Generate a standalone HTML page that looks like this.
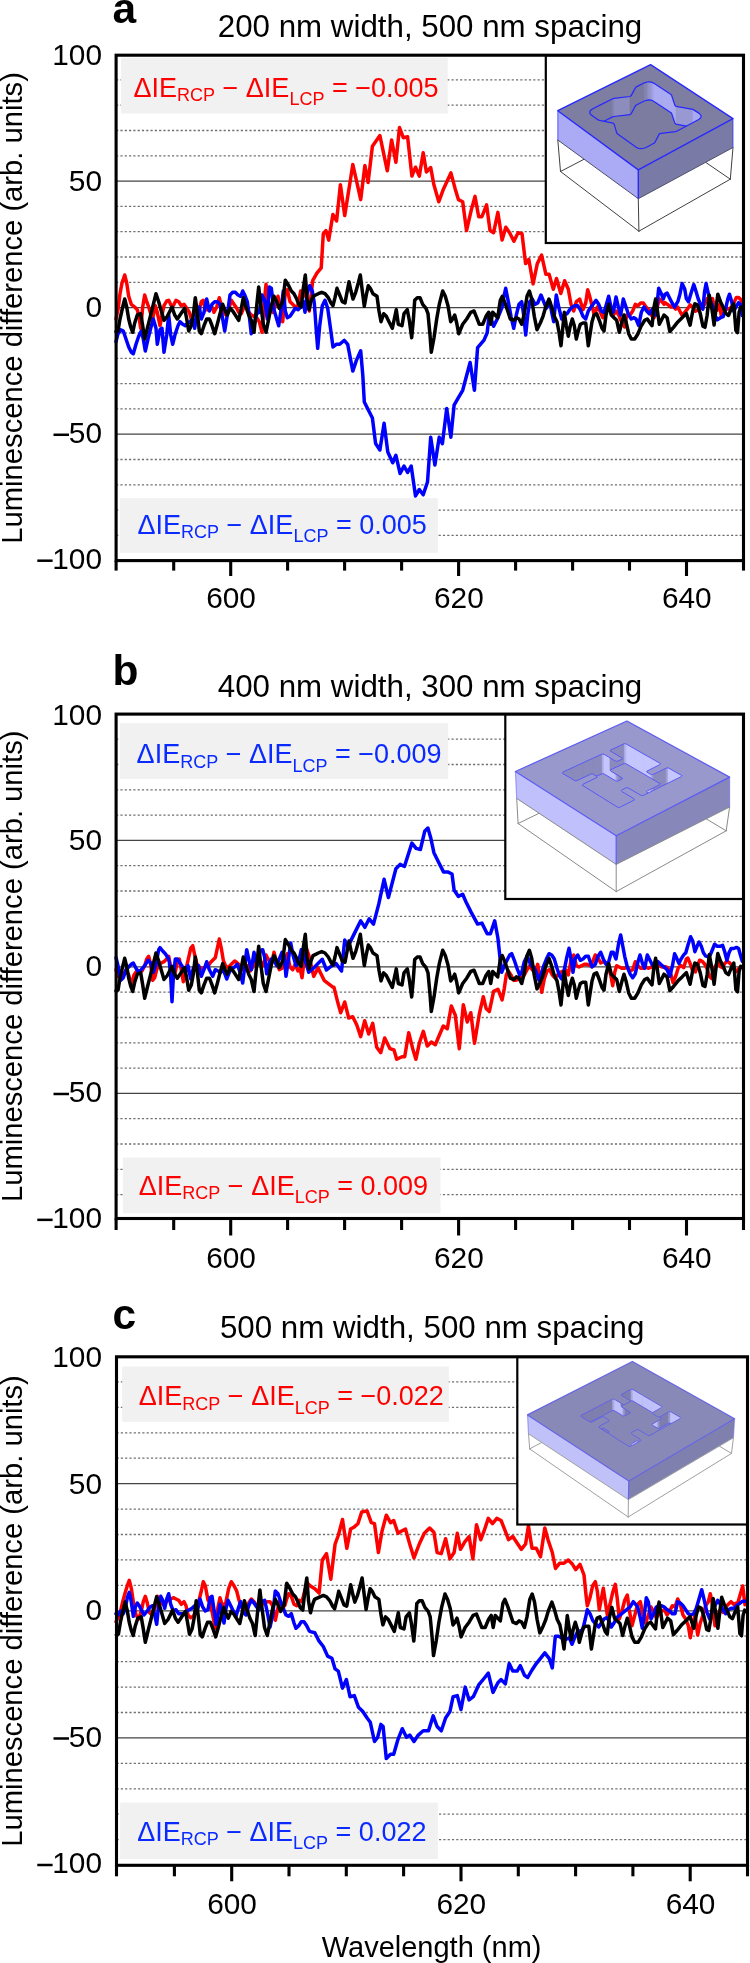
<!DOCTYPE html>
<html><head><meta charset="utf-8"><style>
html,body{margin:0;padding:0;background:#fff;width:750px;height:1963px;overflow:hidden}
text{font-family:"Liberation Sans",sans-serif}
</style></head><body>
<svg width="750" height="1963" viewBox="0 0 750 1963" style="display:block;font-family:'Liberation Sans',sans-serif;will-change:transform">
<rect x="0" y="0" width="750" height="1963" fill="#fff"/>
<line x1="116.1" y1="535.4" x2="743.5" y2="535.4" stroke="#707070" stroke-width="1.3" stroke-dasharray="2.2 2.1"/>
<line x1="116.1" y1="510.1" x2="743.5" y2="510.1" stroke="#707070" stroke-width="1.3" stroke-dasharray="2.2 2.1"/>
<line x1="116.1" y1="484.8" x2="743.5" y2="484.8" stroke="#707070" stroke-width="1.3" stroke-dasharray="2.2 2.1"/>
<line x1="116.1" y1="459.5" x2="743.5" y2="459.5" stroke="#707070" stroke-width="1.3" stroke-dasharray="2.2 2.1"/>
<line x1="116.1" y1="408.9" x2="743.5" y2="408.9" stroke="#707070" stroke-width="1.3" stroke-dasharray="2.2 2.1"/>
<line x1="116.1" y1="383.6" x2="743.5" y2="383.6" stroke="#707070" stroke-width="1.3" stroke-dasharray="2.2 2.1"/>
<line x1="116.1" y1="358.3" x2="743.5" y2="358.3" stroke="#707070" stroke-width="1.3" stroke-dasharray="2.2 2.1"/>
<line x1="116.1" y1="333.0" x2="743.5" y2="333.0" stroke="#707070" stroke-width="1.3" stroke-dasharray="2.2 2.1"/>
<line x1="116.1" y1="282.3" x2="743.5" y2="282.3" stroke="#707070" stroke-width="1.3" stroke-dasharray="2.2 2.1"/>
<line x1="116.1" y1="257.0" x2="743.5" y2="257.0" stroke="#707070" stroke-width="1.3" stroke-dasharray="2.2 2.1"/>
<line x1="116.1" y1="231.7" x2="743.5" y2="231.7" stroke="#707070" stroke-width="1.3" stroke-dasharray="2.2 2.1"/>
<line x1="116.1" y1="206.4" x2="743.5" y2="206.4" stroke="#707070" stroke-width="1.3" stroke-dasharray="2.2 2.1"/>
<line x1="116.1" y1="155.8" x2="743.5" y2="155.8" stroke="#707070" stroke-width="1.3" stroke-dasharray="2.2 2.1"/>
<line x1="116.1" y1="130.5" x2="743.5" y2="130.5" stroke="#707070" stroke-width="1.3" stroke-dasharray="2.2 2.1"/>
<line x1="116.1" y1="105.2" x2="743.5" y2="105.2" stroke="#707070" stroke-width="1.3" stroke-dasharray="2.2 2.1"/>
<line x1="116.1" y1="79.9" x2="743.5" y2="79.9" stroke="#707070" stroke-width="1.3" stroke-dasharray="2.2 2.1"/>
<line x1="116.1" y1="434.2" x2="743.5" y2="434.2" stroke="#444" stroke-width="1.3"/>
<line x1="116.1" y1="307.6" x2="743.5" y2="307.6" stroke="#444" stroke-width="1.3"/>
<line x1="116.1" y1="181.1" x2="743.5" y2="181.1" stroke="#444" stroke-width="1.3"/>
<rect x="121" y="57.8" width="326.7" height="55.7" fill="#f1f1f1"/>
<text x="133.5" y="96.6" font-size="27" fill="#ff0000">ΔIE<tspan font-size="18" dy="4.6">RCP</tspan><tspan dy="-4.6"> − ΔIE</tspan><tspan font-size="18" dy="8.4">LCP</tspan><tspan dy="-8.4"> = −0.005</tspan></text>
<rect x="120" y="498.2" width="317.8" height="54.6" fill="#f1f1f1"/>
<text x="137.5" y="533.5" font-size="27" fill="#0a2aff">ΔIE<tspan font-size="18" dy="4.6">RCP</tspan><tspan dy="-4.6"> − ΔIE</tspan><tspan font-size="18" dy="8.4">LCP</tspan><tspan dy="-8.4"> = 0.005</tspan></text>
<path d="M116.0,319.0 L118.0,309.7 L120.0,293.7 L122.0,283.0 L124.7,275.0 L126.7,283.0 L128.7,296.3 L131.3,304.3 L134.7,307.0 L137.3,309.7 L139.3,319.0 L140.7,328.3 L142.7,307.0 L144.7,295.0 L146.7,301.7 L148.7,307.0 L150.7,313.7 L152.7,319.0 L155.3,305.7 L157.3,312.3 L160.0,325.7 L162.0,315.0 L164.0,305.7 L166.7,301.0 L168.7,300.3 L171.3,305.7 L173.3,305.7 L176.0,300.3 L178.7,301.7 L181.3,305.7 L184.0,304.3 L186.7,308.3 L189.3,312.3 L191.3,319.0 L193.3,315.0 L196.0,308.3 L198.7,312.3 L201.3,301.7 L203.3,300.3 L205.3,309.7 L208.0,309.7 L212.0,307.0 L214.0,312.3 L216.7,307.0 L219.3,297.7 L221.3,305.7 L223.3,312.3 L226.0,315.0 L228.7,309.7 L231.3,300.3 L234.0,304.3 L236.7,308.3 L238.7,312.3 L241.3,313.7 L244.0,307.0 L246.0,301.7 L248.7,312.3 L251.3,315.0 L254.0,316.3 L256.7,317.7 L259.3,321.7 L262.0,332.3 L264.7,297.7 L266.0,284.3 L268.0,301.7 L270.0,308.3 L272.7,312.3 L275.3,305.7 L278.0,296.3 L280.7,308.3 L282.7,321.7 L285.3,292.3 L287.3,289.7 L290.0,301.7 L292.7,304.3 L295.3,307.0 L298.0,305.7 L300.7,291.0 L303.3,296.3 L305.3,288.3 L307.3,301.7 L309.3,311.0 L312.7,280.7 L316.9,273.2 L321.2,267.9 L323.3,233.7 L325.9,230.5 L328.7,240.1 L332.9,214.5 L336.6,220.9 L340.4,184.7 L344.7,215.6 L350.0,182.5 L352.8,164.4 L356.4,180.4 L360.7,199.6 L364.9,165.5 L368.1,182.5 L372.4,146.3 L379.9,135.6 L387.3,170.8 L391.6,139.9 L395.9,162.3 L399.5,127.5 L403.3,137.7 L407.6,136.7 L411.9,176.1 L415.5,167.2 L419.3,176.1 L423.2,152.7 L426.4,171.9 L430.7,167.6 L433.9,184.7 L438.8,201.7 L443.5,188.9 L450.9,172.9 L455.2,188.9 L458.4,199.6 L462.7,201.7 L466.5,230.5 L471.2,210.3 L475.0,196.4 L478.7,216.7 L481.9,216.7 L486.6,204.9 L490.0,230.5 L493.6,232.7 L497.9,212.4 L502.1,240.1 L505.8,227.3 L509.6,232.7 L513.9,241.2 L518.1,232.7 L522.0,233.7 L525.6,263.6 L528.8,259.3 L533.1,283.9 L537.3,263.6 L541.6,255.1 L545.9,274.3 L549.1,274.3 L553.3,289.2 L556.5,278.5 L560.8,293.5 L564.6,280.7 L568.3,289.2 L571.0,304.3 L573.7,311.0 L576.3,301.7 L579.7,299.0 L583.0,309.7 L585.7,303.0 L587.7,289.7 L589.7,296.3 L594.3,315.0 L597.3,307.0 L600.0,311.0 L602.7,317.7 L605.3,313.7 L608.0,307.0 L610.7,309.7 L613.3,315.0 L616.0,311.0 L618.7,315.0 L622.0,323.0 L624.7,327.0 L626.7,315.0 L630.0,315.0 L632.7,311.0 L635.3,304.3 L638.0,305.7 L640.7,303.0 L643.3,303.0 L646.0,307.0 L648.7,309.7 L651.3,315.0 L654.0,317.7 L656.7,309.7 L659.3,299.0 L662.0,301.7 L664.0,304.3 L665.0,302.7 L668.2,304.9 L670.9,307.0 L673.5,307.0 L675.7,309.1 L677.8,307.0 L679.9,311.3 L682.1,315.5 L684.7,312.3 L687.4,309.1 L690.1,304.9 L692.7,307.0 L695.4,311.3 L697.5,310.2 L700.2,308.1 L702.9,307.0 L705.5,302.7 L707.1,298.5 L709.3,300.6 L712.5,298.5 L714.6,308.1 L717.3,310.2 L719.4,304.9 L721.5,316.6 L723.7,310.2 L726.9,309.1 L729.5,309.1 L732.2,305.9 L734.3,301.7 L736.5,297.4 L738.6,297.4 L740.7,299.5 L742.3,302.7" fill="none" stroke="#ff0000" stroke-width="3.5" stroke-linejoin="round" stroke-linecap="round"/>
<path d="M116.0,341.7 L118.0,333.7 L120.7,329.7 L123.3,331.0 L126.0,339.0 L128.7,347.0 L131.3,352.3 L133.3,353.7 L136.0,344.3 L138.7,336.3 L141.3,331.0 L143.3,339.0 L145.3,351.0 L148.0,339.0 L150.7,328.3 L153.3,319.0 L156.0,328.3 L157.3,344.3 L160.0,329.7 L162.0,328.3 L164.0,352.3 L166.7,335.0 L168.7,315.0 L170.7,335.0 L172.7,344.3 L175.3,333.7 L178.0,325.7 L180.0,321.7 L182.7,324.3 L185.3,325.7 L188.0,323.0 L190.0,321.7 L192.7,319.0 L194.7,328.3 L196.7,315.0 L199.3,307.0 L201.3,319.0 L204.0,312.3 L206.7,299.0 L209.3,311.0 L212.0,304.3 L214.7,301.7 L217.3,301.7 L220.0,304.3 L222.7,319.0 L224.7,331.0 L227.3,315.0 L230.0,295.0 L232.7,292.3 L235.3,292.3 L238.0,295.0 L240.7,296.3 L242.7,291.0 L244.7,295.0 L247.3,301.7 L249.3,316.3 L251.3,333.7 L254.0,325.7 L256.7,313.7 L259.3,312.3 L262.0,295.0 L264.7,300.3 L267.3,319.0 L269.3,287.0 L271.3,288.3 L274.0,309.7 L276.7,319.0 L278.7,325.7 L281.3,308.3 L283.3,291.0 L285.3,311.0 L287.3,317.7 L290.0,316.3 L292.7,312.3 L295.3,308.3 L298.0,309.7 L300.7,307.0 L303.3,301.7 L305.0,312.3 L307.0,293.7 L309.7,285.7 L312.3,291.0 L314.3,303.0 L316.3,331.0 L317.7,348.3 L319.7,325.7 L322.3,305.7 L325.0,300.3 L327.7,308.3 L330.3,327.0 L333.0,347.0 L336.3,344.3 L339.7,344.3 L344.3,340.3 L347.7,344.3 L352.8,371.1 L356.4,360.4 L360.7,350.8 L362.8,375.3 L364.3,402.0 L368.1,409.5 L372.4,418.0 L375.6,443.6 L379.9,450.0 L384.1,423.3 L387.8,452.1 L392.7,462.8 L395.9,455.3 L400.1,473.5 L404.0,466.0 L407.6,472.4 L411.2,466.0 L415.5,495.9 L419.3,489.5 L423.2,494.8 L427.5,482.0 L430.7,437.2 L434.9,464.9 L439.2,437.2 L442.4,443.6 L446.7,408.4 L450.9,437.2 L454.1,405.2 L458.4,397.7 L462.7,390.3 L470.1,362.5 L474.4,390.3 L477.6,347.6 L484.0,340.1 L487.2,332.7 L489.3,313.5 L493.6,326.3 L497.9,317.7 L502.1,307.1 L503.0,300.3 L505.7,288.3 L508.3,301.7 L511.0,316.3 L513.7,328.3 L516.3,315.0 L519.0,304.3 L521.7,301.7 L523.7,315.0 L525.7,335.0 L527.7,315.0 L529.7,301.7 L532.3,299.0 L535.0,304.3 L537.7,303.0 L541.0,295.0 L543.7,301.7 L546.3,308.3 L549.7,301.7 L551.7,312.3 L553.7,321.7 L556.3,295.0 L559.0,308.3 L561.7,319.0 L564.3,315.0 L567.0,313.7 L569.7,309.7 L572.3,307.0 L575.0,305.7 L577.7,305.7 L580.3,309.7 L583.0,316.3 L585.7,319.0 L588.3,311.0 L592.0,305.7 L596.0,300.3 L598.7,304.3 L601.3,311.0 L604.0,312.3 L606.0,305.7 L608.7,296.3 L611.3,308.3 L613.3,312.3 L616.0,297.0 L618.7,308.3 L620.7,315.0 L623.3,299.0 L626.0,307.0 L628.7,315.0 L631.3,319.0 L634.0,317.7 L636.0,319.0 L638.7,325.7 L641.3,312.3 L644.0,307.0 L646.7,311.0 L649.3,313.7 L652.0,309.7 L654.0,312.3 L656.0,315.0 L658.7,288.3 L661.3,293.7 L663.3,299.0 L665.0,294.2 L667.1,293.1 L669.8,298.5 L672.5,303.8 L674.6,307.0 L677.8,301.7 L679.9,294.2 L682.1,283.5 L684.7,288.9 L686.3,298.5 L688.5,301.7 L691.1,293.1 L693.8,284.6 L695.9,291.0 L698.1,298.5 L700.7,304.9 L702.9,309.1 L704.5,292.1 L706.1,283.5 L707.7,291.0 L709.8,299.5 L712.5,305.9 L715.1,315.5 L717.3,319.8 L720.5,317.7 L723.1,316.6 L725.8,308.1 L727.9,298.5 L729.5,294.2 L731.7,301.7 L733.8,311.3 L735.9,307.0 L738.6,302.7 L740.7,304.9 L742.3,315.5" fill="none" stroke="#0000ff" stroke-width="3.5" stroke-linejoin="round" stroke-linecap="round"/>
<path d="M116.0,331.7 L118.0,331.0 L120.0,319.0 L122.7,307.0 L124.7,299.0 L126.7,307.0 L128.7,319.0 L130.7,327.0 L132.7,332.3 L134.7,323.0 L137.3,315.0 L140.7,313.7 L142.7,325.7 L144.7,339.0 L147.3,328.3 L150.0,317.7 L152.7,307.0 L156.0,293.7 L158.7,301.7 L161.3,311.0 L164.0,320.3 L167.3,316.3 L170.0,311.0 L172.0,307.0 L174.7,315.0 L177.3,319.0 L180.0,315.0 L182.7,311.0 L184.7,308.3 L186.7,319.0 L188.7,331.0 L191.3,325.7 L193.3,315.0 L195.3,297.7 L197.3,312.3 L199.3,331.0 L201.3,333.7 L204.0,325.7 L206.7,319.0 L209.3,319.0 L210.0,320.3 L212.0,325.7 L214.7,333.7 L217.3,324.3 L220.0,313.7 L222.7,304.3 L225.3,311.0 L227.3,315.0 L230.0,308.3 L232.7,311.0 L235.3,315.0 L238.7,320.3 L241.3,308.3 L243.3,297.7 L246.0,307.0 L248.7,315.0 L251.3,320.3 L254.0,332.3 L256.7,305.7 L258.7,287.0 L260.7,304.3 L263.3,324.3 L266.0,332.3 L268.7,319.0 L271.3,305.7 L274.0,296.3 L276.7,301.7 L279.3,308.3 L282.7,301.7 L285.3,280.3 L288.7,285.7 L291.3,291.0 L294.0,293.7 L296.7,299.0 L298.7,304.3 L301.3,307.0 L303.3,288.3 L305.3,275.0 L307.0,297.7 L309.0,309.7 L311.0,301.7 L313.0,296.3 L315.7,295.0 L318.3,293.7 L321.7,292.3 L325.0,293.7 L328.3,297.7 L331.0,303.0 L333.0,305.7 L335.0,297.7 L337.0,288.3 L339.7,295.0 L342.3,301.7 L345.0,303.0 L347.0,292.3 L349.0,281.7 L351.0,291.0 L353.0,299.0 L355.7,292.3 L358.3,283.0 L360.3,275.0 L362.3,291.0 L364.3,306.3 L366.3,295.0 L368.3,285.7 L370.3,288.3 L373.0,293.7 L377.0,296.3 L379.0,311.0 L381.0,321.7 L383.7,313.7 L386.3,316.3 L389.0,321.7 L392.3,328.3 L394.3,319.0 L396.3,309.7 L398.3,324.3 L402.0,325.7 L404.0,313.7 L407.3,309.7 L409.3,320.3 L411.7,337.7 L413.3,320.3 L414.7,300.3 L417.3,297.7 L420.0,297.7 L422.7,304.3 L426.0,308.3 L428.0,313.7 L430.0,335.0 L431.3,352.3 L434.0,337.7 L436.7,319.0 L439.3,304.3 L442.7,291.0 L445.3,296.3 L448.0,305.7 L450.7,321.7 L452.7,319.0 L454.7,315.0 L456.7,323.0 L458.7,333.7 L462.7,324.3 L466.7,319.0 L470.7,312.3 L474.0,311.0 L476.7,317.7 L479.3,324.3 L482.7,324.3 L486.0,316.3 L488.7,312.3 L490.7,324.3 L492.7,312.3 L497.7,317.7 L500.3,300.3 L502.3,296.3 L505.0,303.0 L507.7,311.0 L510.3,319.0 L513.7,320.3 L516.3,317.7 L519.0,319.0 L521.7,324.3 L524.3,313.7 L527.0,296.3 L529.4,291.0 L531.7,299.0 L534.3,316.3 L537.0,329.7 L540.3,323.0 L543.0,316.3 L545.7,307.0 L549.0,299.0 L551.7,307.0 L554.3,316.3 L557.0,321.7 L559.0,332.3 L561.0,345.7 L563.0,325.7 L564.3,312.3 L566.3,325.7 L568.3,336.3 L570.3,325.7 L572.3,319.0 L574.3,325.7 L576.3,339.0 L578.3,331.0 L580.3,324.3 L583.0,323.0 L585.7,323.0 L588.3,345.7 L592.0,321.7 L594.0,315.0 L596.7,313.7 L599.3,320.3 L602.0,328.3 L604.0,331.0 L606.0,315.0 L608.7,304.3 L611.3,315.0 L614.0,317.7 L616.7,320.3 L619.3,332.3 L622.0,321.7 L624.0,315.0 L626.0,321.7 L628.7,333.7 L631.3,339.0 L634.7,339.0 L638.0,333.7 L641.3,325.7 L644.7,320.3 L647.3,319.0 L650.0,323.0 L652.0,325.7 L654.0,307.0 L655.6,299.0 L657.3,309.7 L659.3,324.3 L662.0,319.0 L664.0,315.0 L667.1,317.7 L669.8,331.5 L673.5,327.3 L677.8,321.9 L682.1,317.7 L686.3,313.4 L690.1,325.1 L692.7,311.3 L694.9,303.8 L697.5,304.9 L700.2,313.4 L702.9,326.2 L705.0,327.3 L707.1,315.5 L709.3,295.3 L711.9,309.1 L714.1,325.1 L716.2,307.0 L717.8,294.2 L720.5,301.7 L723.1,307.0 L725.8,313.4 L728.5,315.5 L731.1,309.1 L733.8,303.8 L735.9,330.5 L737.5,332.6 L739.1,312.3 L740.7,307.0 L742.3,308.1" fill="none" stroke="#000000" stroke-width="3.5" stroke-linejoin="round" stroke-linecap="round"/>

<rect x="545.8" y="55.2" width="197.70000000000005" height="187.8" fill="#fff" stroke="#000" stroke-width="2.2"/>
<line x1="557.8" y1="140.0" x2="560.5" y2="171.5" stroke="#404040" stroke-width="1.0" stroke-linecap="round"/>
<line x1="638.3" y1="198.7" x2="638.9" y2="231.2" stroke="#404040" stroke-width="1.0" stroke-linecap="round"/>
<line x1="733.0" y1="147.5" x2="730.3" y2="179.2" stroke="#404040" stroke-width="1.0" stroke-linecap="round"/>
<line x1="650.6" y1="93.9" x2="650.6" y2="124.6" stroke="#404040" stroke-width="1.0" stroke-linecap="round"/>
<line x1="560.5" y1="171.5" x2="638.9" y2="231.2" stroke="#404040" stroke-width="1.0" stroke-linecap="round"/>
<line x1="638.9" y1="231.2" x2="730.3" y2="179.2" stroke="#404040" stroke-width="1.0" stroke-linecap="round"/>
<line x1="730.3" y1="179.2" x2="650.6" y2="124.6" stroke="#404040" stroke-width="1.0" stroke-linecap="round"/>
<line x1="650.6" y1="124.6" x2="560.5" y2="171.5" stroke="#404040" stroke-width="1.0" stroke-linecap="round"/>
<polygon points="557.8,110.7 638.3,169.9 638.3,198.7 557.8,140.0" fill="#aaaaf5"/>
<polygon points="638.3,169.9 733.0,118.7 733.0,147.5 638.3,198.7" fill="#7a7aa6"/>
<polygon points="557.8,110.7 650.6,64.6 733.0,118.7 638.3,169.9" fill="#7e7ea2"/>
<polyline points="557.8,140.0 638.3,198.7 733.0,147.5" fill="none" stroke="#50506a" stroke-width="1.0"/>
<defs><clipPath id="clip_a"><polygon points="599.4,120.4 598.2,119.9 591.3,115.0 590.1,113.8 589.7,112.2 590.2,110.7 592.3,109.0 602.5,103.9 612.6,98.8 613.9,98.4 630.0,96.5 631.2,95.6 635.5,87.6 636.3,86.9 644.3,82.8 647.2,82.0 648.7,81.9 651.2,82.1 653.6,83.1 662.3,88.8 671.0,94.6 671.5,95.1 674.9,105.2 676.0,106.3 692.9,109.4 699.2,113.4 700.9,115.3 701.1,116.9 700.7,117.8 699.2,119.2 691.7,123.2 684.3,127.2 676.7,131.2 675.4,131.6 661.1,133.3 659.3,133.9 654.9,142.5 654.0,143.3 646.1,147.5 642.9,148.5 640.2,148.6 638.7,148.3 636.2,147.3 626.7,140.5 617.3,133.7 616.7,132.9 614.2,124.2 613.1,123.2 599.4,120.4"/></clipPath></defs>
<g clip-path="url(#clip_a)">
<polygon points="599.4,120.4 598.2,119.9 591.3,115.0 590.1,113.8 589.7,112.2 590.2,110.7 592.3,109.0 602.5,103.9 612.6,98.8 613.9,98.4 630.0,96.5 631.2,95.6 635.5,87.6 636.3,86.9 644.3,82.8 647.2,82.0 648.7,81.9 651.2,82.1 653.6,83.1 662.3,88.8 671.0,94.6 671.5,95.1 674.9,105.2 676.0,106.3 692.9,109.4 699.2,113.4 700.9,115.3 701.1,116.9 700.7,117.8 699.2,119.2 691.7,123.2 684.3,127.2 676.7,131.2 675.4,131.6 661.1,133.3 659.3,133.9 654.9,142.5 654.0,143.3 646.1,147.5 642.9,148.5 640.2,148.6 638.7,148.3 636.2,147.3 626.7,140.5 617.3,133.7 616.7,132.9 614.2,124.2 613.1,123.2 599.4,120.4" fill="#7a7aa0"/>
<polygon points="591.3,115.0 590.1,113.8 590.1,131.9 591.3,133.1" fill="#7a7aa0" stroke="#7a7aa0" stroke-width="0.6"/>
<polygon points="590.1,113.8 589.7,112.2 589.7,130.3 590.1,131.9" fill="#7a7aa0" stroke="#7a7aa0" stroke-width="0.6"/>
<polygon points="589.7,112.2 590.2,110.7 590.2,128.8 589.7,130.3" fill="#7a7aa0" stroke="#7a7aa0" stroke-width="0.6"/>
<polygon points="590.2,110.7 592.3,109.0 592.3,127.1 590.2,128.8" fill="#7a7aa0" stroke="#7a7aa0" stroke-width="0.6"/>
<polygon points="592.3,109.0 602.5,103.9 602.5,122.0 592.3,127.1" fill="#7a7aa0" stroke="#7a7aa0" stroke-width="0.6"/>
<polygon points="602.5,103.9 612.6,98.8 612.6,116.9 602.5,122.0" fill="#7a7aa0" stroke="#7a7aa0" stroke-width="0.6"/>
<polygon points="612.6,98.8 613.9,98.4 613.9,116.5 612.6,116.9" fill="#8484b1" stroke="#8484b1" stroke-width="0.6"/>
<polygon points="613.9,98.4 630.0,96.5 630.0,114.6 613.9,116.5" fill="#8c8cbd" stroke="#8c8cbd" stroke-width="0.6"/>
<polygon points="630.0,96.5 631.2,95.6 631.2,113.7 630.0,114.6" fill="#7a7aa0" stroke="#7a7aa0" stroke-width="0.6"/>
<polygon points="631.2,95.6 635.5,87.6 635.5,105.7 631.2,113.7" fill="#7a7aa0" stroke="#7a7aa0" stroke-width="0.6"/>
<polygon points="635.5,87.6 636.3,86.9 636.3,105.0 635.5,105.7" fill="#7a7aa0" stroke="#7a7aa0" stroke-width="0.6"/>
<polygon points="636.3,86.9 644.3,82.8 644.3,101.0 636.3,105.0" fill="#7a7aa0" stroke="#7a7aa0" stroke-width="0.6"/>
<polygon points="644.3,82.8 647.2,82.0 647.2,100.1 644.3,101.0" fill="#8484b0" stroke="#8484b0" stroke-width="0.6"/>
<polygon points="647.2,82.0 648.7,81.9 648.7,100.0 647.2,100.1" fill="#8e8ec1" stroke="#8e8ec1" stroke-width="0.6"/>
<polygon points="648.7,81.9 651.2,82.1 651.2,100.2 648.7,100.0" fill="#9595ce" stroke="#9595ce" stroke-width="0.6"/>
<polygon points="651.2,82.1 653.6,83.1 653.6,101.2 651.2,100.2" fill="#a0a0e0" stroke="#a0a0e0" stroke-width="0.6"/>
<polygon points="653.6,83.1 662.3,88.8 662.3,106.9 653.6,101.2" fill="#ababf2" stroke="#ababf2" stroke-width="0.6"/>
<polygon points="662.3,88.8 671.0,94.6 671.0,112.7 662.3,106.9" fill="#ababf2" stroke="#ababf2" stroke-width="0.6"/>
<polygon points="671.0,94.6 671.5,95.1 671.5,113.1 671.0,112.7" fill="#ababf2" stroke="#ababf2" stroke-width="0.6"/>
<polygon points="671.5,95.1 674.9,105.2 674.9,123.2 671.5,113.1" fill="#ababf2" stroke="#ababf2" stroke-width="0.6"/>
<polygon points="674.9,105.2 676.0,106.3 676.0,124.2 674.9,123.2" fill="#ababf2" stroke="#ababf2" stroke-width="0.6"/>
<polygon points="676.0,106.3 692.9,109.4 692.9,127.4 676.0,124.2" fill="#9898d3" stroke="#9898d3" stroke-width="0.6"/>
<polygon points="692.9,109.4 699.2,113.4 699.2,131.4 692.9,127.4" fill="#aaaaf0" stroke="#aaaaf0" stroke-width="0.6"/>
<polygon points="699.2,113.4 700.9,115.3 700.9,133.2 699.2,131.4" fill="#ababf2" stroke="#ababf2" stroke-width="0.6"/>
<polygon points="700.9,115.3 701.1,116.9 701.1,134.8 700.9,133.2" fill="#ababf2" stroke="#ababf2" stroke-width="0.6"/>
<polygon points="701.1,116.9 700.7,117.8 700.7,135.7 701.1,134.8" fill="#ababf2" stroke="#ababf2" stroke-width="0.6"/>
<polygon points="700.7,117.8 699.2,119.2 699.2,137.2 700.7,135.7" fill="#ababf2" stroke="#ababf2" stroke-width="0.6"/>
<polygon points="699.2,119.2 691.7,123.2 691.7,141.1 699.2,137.2" fill="#ababf2" stroke="#ababf2" stroke-width="0.6"/>
<polygon points="691.7,123.2 684.3,127.2 684.3,145.1 691.7,141.1" fill="#ababf2" stroke="#ababf2" stroke-width="0.6"/>
<polygon points="684.3,127.2 676.7,131.2 676.7,149.1 684.3,145.1" fill="#ababf2" stroke="#ababf2" stroke-width="0.6"/>
<polygon points="659.3,133.9 654.9,142.5 654.9,160.4 659.3,151.8" fill="#ababf2" stroke="#ababf2" stroke-width="0.6"/>
<polygon points="654.9,142.5 654.0,143.3 654.0,161.2 654.9,160.4" fill="#ababf2" stroke="#ababf2" stroke-width="0.6"/>
<polygon points="617.3,133.7 616.7,132.9 616.7,150.9 617.3,151.7" fill="#7a7aa0" stroke="#7a7aa0" stroke-width="0.6"/>
<polygon points="616.7,132.9 614.2,124.2 614.2,142.3 616.7,150.9" fill="#7a7aa0" stroke="#7a7aa0" stroke-width="0.6"/>
<polygon points="614.2,124.2 613.1,123.2 613.1,141.2 614.2,142.3" fill="#7a7aa0" stroke="#7a7aa0" stroke-width="0.6"/>
<polygon points="599.4,138.5 598.2,138.0 591.3,133.1 590.1,131.9 589.7,130.3 590.2,128.8 592.3,127.1 602.5,122.0 612.6,116.9 613.9,116.5 630.0,114.6 631.2,113.7 635.5,105.7 636.3,105.0 644.3,101.0 647.2,100.1 648.7,100.0 651.2,100.2 653.6,101.2 662.3,106.9 671.0,112.7 671.5,113.1 674.9,123.2 676.0,124.2 692.9,127.4 699.2,131.4 700.9,133.2 701.1,134.8 700.7,135.7 699.2,137.2 691.7,141.1 684.3,145.1 676.7,149.1 675.4,149.5 661.1,151.2 659.3,151.8 654.9,160.4 654.0,161.2 646.1,165.5 642.9,166.4 640.2,166.5 638.7,166.2 636.2,165.2 626.7,158.4 617.3,151.7 616.7,150.9 614.2,142.3 613.1,141.2 599.4,138.5" fill="#7c7ca0" stroke="#2828ff" stroke-width="1.25"/>
</g>
<polygon points="599.4,120.4 598.2,119.9 591.3,115.0 590.1,113.8 589.7,112.2 590.2,110.7 592.3,109.0 602.5,103.9 612.6,98.8 613.9,98.4 630.0,96.5 631.2,95.6 635.5,87.6 636.3,86.9 644.3,82.8 647.2,82.0 648.7,81.9 651.2,82.1 653.6,83.1 662.3,88.8 671.0,94.6 671.5,95.1 674.9,105.2 676.0,106.3 692.9,109.4 699.2,113.4 700.9,115.3 701.1,116.9 700.7,117.8 699.2,119.2 691.7,123.2 684.3,127.2 676.7,131.2 675.4,131.6 661.1,133.3 659.3,133.9 654.9,142.5 654.0,143.3 646.1,147.5 642.9,148.5 640.2,148.6 638.7,148.3 636.2,147.3 626.7,140.5 617.3,133.7 616.7,132.9 614.2,124.2 613.1,123.2 599.4,120.4" fill="none" stroke="#2828ff" stroke-width="1.25" stroke-linejoin="round"/>
<polygon points="557.8,110.7 650.6,64.6 733.0,118.7 638.3,169.9" fill="none" stroke="#2828ff" stroke-width="1.4" stroke-linejoin="round"/>
<line x1="638.3" y1="169.9" x2="638.3" y2="198.7" stroke="#2828ff" stroke-width="1.4"/>
<line x1="557.8" y1="110.7" x2="557.8" y2="140.0" stroke="#2828ff" stroke-width="1.4" opacity="0.5"/>
<line x1="733.0" y1="118.7" x2="733.0" y2="147.5" stroke="#2828ff" stroke-width="1.4" opacity="0.5"/>
<rect x="116.1" y="55.2" width="627.4" height="505.40000000000003" fill="none" stroke="#000" stroke-width="3.1"/>
<line x1="116.1" y1="560.6" x2="116.1" y2="570.6" stroke="#000" stroke-width="3.1"/>
<line x1="173.7" y1="560.6" x2="173.7" y2="570.6" stroke="#000" stroke-width="3.1"/>
<line x1="230.7" y1="560.6" x2="230.7" y2="576.0" stroke="#000" stroke-width="3.1"/>
<line x1="287.6" y1="560.6" x2="287.6" y2="570.6" stroke="#000" stroke-width="3.1"/>
<line x1="344.6" y1="560.6" x2="344.6" y2="570.6" stroke="#000" stroke-width="3.1"/>
<line x1="401.6" y1="560.6" x2="401.6" y2="570.6" stroke="#000" stroke-width="3.1"/>
<line x1="458.6" y1="560.6" x2="458.6" y2="576.0" stroke="#000" stroke-width="3.1"/>
<line x1="515.6" y1="560.6" x2="515.6" y2="570.6" stroke="#000" stroke-width="3.1"/>
<line x1="572.6" y1="560.6" x2="572.6" y2="570.6" stroke="#000" stroke-width="3.1"/>
<line x1="629.5" y1="560.6" x2="629.5" y2="570.6" stroke="#000" stroke-width="3.1"/>
<line x1="686.5" y1="560.6" x2="686.5" y2="576.0" stroke="#000" stroke-width="3.1"/>
<line x1="743.5" y1="560.6" x2="743.5" y2="570.6" stroke="#000" stroke-width="3.1"/>
<text x="231.0" y="608.4" font-size="29.8" text-anchor="middle">600</text>
<text x="458.9" y="608.4" font-size="29.8" text-anchor="middle">620</text>
<text x="686.8" y="608.4" font-size="29.8" text-anchor="middle">640</text>
<text x="102" y="65.2" font-size="29.8" text-anchor="end">100</text>
<text x="102" y="191.1" font-size="29.8" text-anchor="end">50</text>
<text x="102" y="317.0" font-size="29.8" text-anchor="end">0</text>
<text x="102" y="443.0" font-size="29.8" text-anchor="end">50</text>
<rect x="53.5" y="433.52" width="15.5" height="2.5" fill="#000"/>
<text x="102" y="568.9" font-size="29.8" text-anchor="end">100</text>
<rect x="37.3" y="559.45" width="15.3" height="2.5" fill="#000"/>
<text x="430.0" y="37.4" font-size="31.3" text-anchor="middle">200 nm width, 500 nm spacing</text>
<text x="112.5" y="22.6" font-size="42.5" font-weight="bold">a</text>
<text transform="translate(21.8,307.9) rotate(-90)" font-size="29.2" text-anchor="middle">Luminescence difference (arb. units)</text>
<line x1="116.1" y1="1194.6" x2="743.5" y2="1194.6" stroke="#707070" stroke-width="1.3" stroke-dasharray="2.2 2.1"/>
<line x1="116.1" y1="1169.3" x2="743.5" y2="1169.3" stroke="#707070" stroke-width="1.3" stroke-dasharray="2.2 2.1"/>
<line x1="116.1" y1="1144.0" x2="743.5" y2="1144.0" stroke="#707070" stroke-width="1.3" stroke-dasharray="2.2 2.1"/>
<line x1="116.1" y1="1118.7" x2="743.5" y2="1118.7" stroke="#707070" stroke-width="1.3" stroke-dasharray="2.2 2.1"/>
<line x1="116.1" y1="1068.1" x2="743.5" y2="1068.1" stroke="#707070" stroke-width="1.3" stroke-dasharray="2.2 2.1"/>
<line x1="116.1" y1="1042.8" x2="743.5" y2="1042.8" stroke="#707070" stroke-width="1.3" stroke-dasharray="2.2 2.1"/>
<line x1="116.1" y1="1017.5" x2="743.5" y2="1017.5" stroke="#707070" stroke-width="1.3" stroke-dasharray="2.2 2.1"/>
<line x1="116.1" y1="992.2" x2="743.5" y2="992.2" stroke="#707070" stroke-width="1.3" stroke-dasharray="2.2 2.1"/>
<line x1="116.1" y1="941.6" x2="743.5" y2="941.6" stroke="#707070" stroke-width="1.3" stroke-dasharray="2.2 2.1"/>
<line x1="116.1" y1="916.3" x2="743.5" y2="916.3" stroke="#707070" stroke-width="1.3" stroke-dasharray="2.2 2.1"/>
<line x1="116.1" y1="891.0" x2="743.5" y2="891.0" stroke="#707070" stroke-width="1.3" stroke-dasharray="2.2 2.1"/>
<line x1="116.1" y1="865.7" x2="743.5" y2="865.7" stroke="#707070" stroke-width="1.3" stroke-dasharray="2.2 2.1"/>
<line x1="116.1" y1="815.1" x2="743.5" y2="815.1" stroke="#707070" stroke-width="1.3" stroke-dasharray="2.2 2.1"/>
<line x1="116.1" y1="789.8" x2="743.5" y2="789.8" stroke="#707070" stroke-width="1.3" stroke-dasharray="2.2 2.1"/>
<line x1="116.1" y1="764.5" x2="743.5" y2="764.5" stroke="#707070" stroke-width="1.3" stroke-dasharray="2.2 2.1"/>
<line x1="116.1" y1="739.2" x2="743.5" y2="739.2" stroke="#707070" stroke-width="1.3" stroke-dasharray="2.2 2.1"/>
<line x1="116.1" y1="1093.4" x2="743.5" y2="1093.4" stroke="#444" stroke-width="1.3"/>
<line x1="116.1" y1="966.9" x2="743.5" y2="966.9" stroke="#444" stroke-width="1.3"/>
<line x1="116.1" y1="840.4" x2="743.5" y2="840.4" stroke="#444" stroke-width="1.3"/>
<rect x="120" y="723.2" width="328.2" height="55.8" fill="#f1f1f1"/>
<text x="136.6" y="763.4" font-size="27" fill="#0a2aff">ΔIE<tspan font-size="18" dy="4.6">RCP</tspan><tspan dy="-4.6"> − ΔIE</tspan><tspan font-size="18" dy="8.4">LCP</tspan><tspan dy="-8.4"> = −0.009</tspan></text>
<rect x="123" y="1157.6" width="317.5" height="55.6" fill="#f1f1f1"/>
<text x="138.8" y="1194.6" font-size="27" fill="#ff0000">ΔIE<tspan font-size="18" dy="4.6">RCP</tspan><tspan dy="-4.6"> − ΔIE</tspan><tspan font-size="18" dy="8.4">LCP</tspan><tspan dy="-8.4"> = 0.009</tspan></text>
<path d="M116.0,969.7 L118.0,976.3 L120.7,975.0 L123.3,975.0 L126.0,969.7 L128.7,975.0 L131.3,985.7 L134.0,975.0 L136.7,971.0 L139.3,971.0 L142.0,971.0 L144.7,965.7 L146.7,959.0 L148.7,956.3 L150.7,964.3 L152.7,980.3 L154.7,977.7 L156.7,969.7 L158.7,964.3 L161.3,963.0 L164.0,961.7 L166.7,959.0 L168.7,956.3 L170.7,967.0 L172.7,975.0 L174.7,975.0 L177.3,961.7 L179.3,959.0 L181.3,969.7 L183.3,981.7 L185.3,972.3 L188.0,960.3 L190.7,948.3 L192.7,945.7 L194.7,955.0 L196.7,963.0 L198.7,967.0 L201.3,968.3 L204.0,968.3 L206.7,965.7 L209.3,964.3 L210.0,963.0 L212.7,960.3 L215.3,957.7 L217.3,948.3 L219.3,939.0 L221.3,948.3 L223.3,960.3 L226.0,967.0 L228.7,967.0 L231.3,964.3 L234.7,961.0 L237.3,963.0 L240.0,965.7 L242.7,969.7 L245.3,968.3 L248.0,965.7 L250.0,971.0 L252.7,967.0 L255.3,960.3 L258.0,956.3 L260.7,961.7 L263.3,965.7 L266.0,955.0 L268.7,960.3 L271.3,964.3 L274.0,952.3 L276.7,963.0 L279.3,969.7 L282.0,968.3 L284.7,961.7 L287.3,953.7 L290.0,967.0 L292.7,969.7 L295.3,964.3 L298.0,971.0 L300.0,968.3 L302.0,977.7 L304.0,961.7 L306.0,947.0 L308.7,955.0 L313.7,976.4 L318.0,967.9 L324.4,980.7 L332.9,987.1 L334.0,987.3 L338.0,1003.3 L340.7,1012.7 L344.7,1002.0 L348.7,1018.0 L352.7,1016.7 L356.7,1024.7 L360.7,1036.7 L364.7,1020.7 L368.7,1034.0 L372.7,1023.3 L376.7,1047.3 L380.7,1052.7 L384.7,1038.0 L390.0,1048.7 L394.0,1050.0 L396.7,1059.3 L402.0,1056.7 L404.7,1056.7 L408.7,1032.7 L412.7,1048.7 L415.9,1059.3 L419.3,1043.3 L423.3,1031.3 L427.3,1046.0 L431.3,1042.0 L435.3,1044.7 L439.3,1035.3 L443.3,1026.0 L447.3,1028.7 L451.3,1006.0 L455.3,1015.3 L459.3,1048.7 L463.3,1004.7 L467.3,1022.0 L470.8,1012.7 L474.5,1043.3 L479.3,1014.0 L483.3,996.7 L486.1,1008.4 L489.3,1011.6 L493.6,991.3 L497.9,989.2 L502.1,999.9 L504.3,988.3 L506.3,975.0 L508.3,971.0 L511.0,975.0 L513.7,980.3 L516.3,980.3 L519.0,977.7 L521.7,977.7 L524.3,975.0 L527.0,969.7 L529.7,965.7 L532.3,969.7 L535.0,972.3 L537.7,964.3 L540.3,980.3 L541.7,992.3 L544.3,979.0 L547.0,971.0 L549.7,969.7 L552.3,975.0 L555.0,977.7 L557.7,975.0 L560.3,972.3 L563.0,971.0 L565.7,969.7 L568.3,975.0 L571.0,960.3 L573.7,955.0 L576.3,965.7 L579.0,967.0 L581.7,965.7 L584.3,964.3 L587.0,964.3 L590.0,965.7 L592.7,961.7 L595.3,955.0 L598.0,957.7 L600.7,963.0 L603.3,961.7 L606.0,963.0 L608.7,968.3 L610.7,975.0 L612.7,985.7 L614.7,972.3 L616.7,965.7 L619.3,967.0 L622.0,968.3 L624.7,968.3 L627.3,967.0 L630.0,971.0 L632.7,969.7 L635.3,961.7 L638.0,965.7 L640.7,968.3 L643.3,968.3 L646.0,967.0 L648.7,968.3 L651.3,967.0 L654.0,968.3 L656.7,965.7 L659.3,965.7 L662.0,967.0 L664.7,967.0 L665.0,966.6 L667.7,967.7 L670.3,971.9 L673.0,982.6 L675.7,976.2 L678.3,967.7 L681.0,965.5 L683.7,967.7 L686.3,959.1 L687.9,958.1 L690.1,963.4 L692.7,970.9 L695.4,971.9 L697.5,965.5 L699.7,960.2 L702.3,961.3 L705.0,964.5 L707.1,968.7 L709.3,976.2 L711.4,978.3 L713.0,970.9 L715.7,965.5 L718.3,962.3 L720.5,966.6 L722.6,967.7 L724.7,963.4 L726.9,961.3 L729.0,962.3 L731.1,964.5 L733.3,967.7 L735.4,971.9 L737.5,969.8 L739.7,967.7 L742.3,966.6" fill="none" stroke="#ff0000" stroke-width="3.5" stroke-linejoin="round" stroke-linecap="round"/>
<path d="M116.0,957.7 L118.0,965.7 L120.7,980.3 L123.3,977.7 L126.0,969.7 L128.7,967.0 L131.3,964.3 L133.3,963.0 L136.0,968.3 L138.7,972.3 L141.3,969.7 L144.7,965.7 L148.0,960.3 L150.7,963.0 L153.3,972.3 L156.0,964.3 L158.7,949.7 L160.0,947.7 L162.7,951.0 L165.3,953.7 L168.0,957.7 L169.3,961.7 L170.7,976.3 L172.0,1001.7 L173.3,977.7 L175.3,959.0 L177.3,959.0 L180.0,963.0 L182.7,967.0 L185.3,972.3 L188.0,965.7 L190.7,979.0 L193.3,968.3 L196.0,965.7 L198.7,965.7 L201.3,976.3 L204.0,969.7 L206.7,961.7 L209.3,969.7 L210.0,971.0 L212.7,976.3 L215.3,969.7 L218.0,971.0 L220.7,972.3 L223.3,969.7 L226.7,979.0 L229.3,972.3 L232.0,968.3 L234.7,967.0 L237.3,964.3 L240.0,972.3 L242.7,983.0 L244.7,967.0 L246.7,949.7 L248.7,959.0 L251.3,969.7 L254.0,952.3 L256.0,961.7 L258.0,964.3 L260.0,951.0 L262.7,949.7 L264.7,957.7 L266.7,973.7 L268.7,964.3 L271.3,959.0 L274.0,960.3 L276.7,965.7 L279.3,959.0 L282.0,952.3 L284.0,955.0 L286.0,976.3 L288.7,957.7 L290.7,943.0 L293.3,956.3 L296.0,965.7 L298.7,961.7 L301.3,949.7 L303.3,953.7 L306.0,963.0 L308.7,972.3 L313.7,967.9 L318.0,963.6 L322.3,959.3 L326.5,970.0 L331.9,965.7 L336.1,963.6 L341.5,971.1 L344.7,940.1 L347.9,946.5 L351.1,940.1 L355.3,931.6 L360.7,920.9 L364.9,927.3 L369.2,918.8 L373.5,924.1 L378.8,903.9 L384.1,879.3 L388.4,897.5 L395.9,868.7 L400.1,864.4 L404.4,866.5 L411.9,843.1 L416.1,848.4 L420.4,849.5 L424.7,831.3 L427.9,828.1 L430.7,837.7 L433.9,852.7 L438.1,861.2 L443.5,871.9 L447.7,871.9 L452.0,874.0 L454.1,890.0 L458.4,896.4 L462.7,894.3 L465.9,901.7 L471.2,912.4 L477.6,924.1 L481.9,923.1 L487.2,933.7 L490.4,933.7 L494.7,920.9 L497.9,938.0 L499.7,955.0 L501.7,972.3 L504.3,965.7 L507.0,960.3 L509.7,955.0 L511.7,953.7 L514.3,960.3 L517.0,968.3 L519.7,975.0 L521.7,972.3 L524.3,961.7 L527.0,956.3 L529.0,960.3 L531.0,965.7 L533.7,967.0 L536.3,972.3 L539.0,980.3 L541.7,972.3 L544.3,964.3 L547.0,957.7 L549.0,953.7 L551.7,955.0 L554.3,959.0 L557.0,968.3 L559.7,976.3 L561.7,979.0 L564.3,969.7 L567.0,956.3 L569.0,948.3 L571.0,959.0 L573.0,972.3 L575.0,959.0 L577.7,955.0 L580.3,960.3 L583.0,959.0 L585.7,956.3 L588.3,956.3 L592.0,967.0 L595.3,964.3 L598.0,956.3 L600.7,952.3 L603.3,959.0 L606.0,964.3 L608.7,961.7 L611.3,952.3 L613.3,952.3 L616.0,959.0 L618.7,943.0 L620.7,935.0 L622.7,945.7 L624.7,956.3 L627.3,967.0 L630.0,973.7 L632.7,977.7 L635.3,973.7 L638.0,961.7 L640.0,955.0 L642.7,964.3 L644.7,968.3 L647.3,955.0 L650.0,960.3 L652.7,965.7 L655.3,964.3 L658.0,961.7 L660.7,964.3 L664.0,967.0 L665.0,967.7 L667.1,969.8 L669.8,976.2 L672.5,965.5 L674.6,953.8 L676.7,958.1 L678.9,963.4 L681.0,959.1 L683.7,954.9 L685.8,952.7 L687.9,945.3 L690.6,936.7 L692.7,941.0 L694.9,951.7 L697.0,946.3 L699.1,942.1 L701.3,946.3 L703.4,952.7 L705.5,955.9 L708.2,957.0 L710.3,954.9 L712.5,949.5 L714.6,944.2 L717.3,946.3 L719.9,946.3 L722.6,945.3 L724.7,951.7 L726.9,960.2 L729.0,952.7 L731.1,948.5 L733.8,948.5 L736.5,947.4 L738.6,948.5 L740.7,955.9 L742.3,961.3" fill="none" stroke="#0000ff" stroke-width="3.5" stroke-linejoin="round" stroke-linecap="round"/>
<path d="M116.0,990.9 L118.0,990.2 L120.0,978.2 L122.7,966.3 L124.7,958.3 L126.7,966.3 L128.7,978.2 L130.7,986.2 L132.7,991.5 L134.7,982.2 L137.3,974.2 L140.7,972.9 L142.7,984.9 L144.7,998.2 L147.3,987.5 L150.0,976.9 L152.7,966.3 L156.0,953.0 L158.7,961.0 L161.3,970.2 L164.0,979.5 L167.3,975.5 L170.0,970.2 L172.0,966.3 L174.7,974.2 L177.3,978.2 L180.0,974.2 L182.7,970.2 L184.7,967.5 L186.7,978.2 L188.7,990.2 L191.3,984.9 L193.3,974.2 L195.3,957.0 L197.3,971.5 L199.3,990.2 L201.3,992.9 L204.0,984.9 L206.7,978.2 L209.3,978.2 L210.0,979.5 L212.0,984.9 L214.7,992.9 L217.3,983.5 L220.0,972.9 L222.7,963.6 L225.3,970.2 L227.3,974.2 L230.0,967.5 L232.7,970.2 L235.3,974.2 L238.7,979.5 L241.3,967.5 L243.3,957.0 L246.0,966.3 L248.7,974.2 L251.3,979.5 L254.0,991.5 L256.7,965.0 L258.7,946.3 L260.7,963.6 L263.3,983.5 L266.0,991.5 L268.7,978.2 L271.3,965.0 L274.0,955.6 L276.7,961.0 L279.3,967.5 L282.7,961.0 L285.3,939.6 L288.7,945.0 L291.3,950.3 L294.0,953.0 L296.7,958.3 L298.7,963.6 L301.3,966.3 L303.3,947.6 L305.3,934.3 L307.0,957.0 L309.0,968.9 L311.0,961.0 L313.0,955.6 L315.7,954.3 L318.3,953.0 L321.7,951.6 L325.0,953.0 L328.3,957.0 L331.0,962.3 L333.0,965.0 L335.0,957.0 L337.0,947.6 L339.7,954.3 L342.3,961.0 L345.0,962.3 L347.0,951.6 L349.0,941.0 L351.0,950.3 L353.0,958.3 L355.7,951.6 L358.3,942.3 L360.3,934.3 L362.3,950.3 L364.3,965.6 L366.3,954.3 L368.3,945.0 L370.3,947.6 L373.0,953.0 L377.0,955.6 L379.0,970.2 L381.0,980.9 L383.7,972.9 L386.3,975.5 L389.0,980.9 L392.3,987.5 L394.3,978.2 L396.3,968.9 L398.3,983.5 L402.0,984.9 L404.0,972.9 L407.3,968.9 L409.3,979.5 L411.7,996.9 L413.3,979.5 L414.7,959.6 L417.3,957.0 L420.0,957.0 L422.7,963.6 L426.0,967.5 L428.0,972.9 L430.0,994.2 L431.3,1011.5 L434.0,996.9 L436.7,978.2 L439.3,963.6 L442.7,950.3 L445.3,955.6 L448.0,965.0 L450.7,980.9 L452.7,978.2 L454.7,974.2 L456.7,982.2 L458.7,992.9 L462.7,983.5 L466.7,978.2 L470.7,971.5 L474.0,970.2 L476.7,976.9 L479.3,983.5 L482.7,983.5 L486.0,975.5 L488.7,971.5 L490.7,983.5 L492.7,971.5 L497.7,976.9 L500.3,959.6 L502.3,955.6 L505.0,962.3 L507.7,970.2 L510.3,978.2 L513.7,979.5 L516.3,976.9 L519.0,978.2 L521.7,983.5 L524.3,972.9 L527.0,955.6 L529.4,950.3 L531.7,958.3 L534.3,975.5 L537.0,988.9 L540.3,982.2 L543.0,975.5 L545.7,966.3 L549.0,958.3 L551.7,966.3 L554.3,975.5 L557.0,980.9 L559.0,991.5 L561.0,1004.9 L563.0,984.9 L564.3,971.5 L566.3,984.9 L568.3,995.5 L570.3,984.9 L572.3,978.2 L574.3,984.9 L576.3,998.2 L578.3,990.2 L580.3,983.5 L583.0,982.2 L585.7,982.2 L588.3,1004.9 L592.0,980.9 L594.0,974.2 L596.7,972.9 L599.3,979.5 L602.0,987.5 L604.0,990.2 L606.0,974.2 L608.7,963.6 L611.3,974.2 L614.0,976.9 L616.7,979.5 L619.3,991.5 L622.0,980.9 L624.0,974.2 L626.0,980.9 L628.7,992.9 L631.3,998.2 L634.7,998.2 L638.0,992.9 L641.3,984.9 L644.7,979.5 L647.3,978.2 L650.0,982.2 L652.0,984.9 L654.0,966.3 L655.6,958.3 L657.3,968.9 L659.3,983.5 L662.0,978.2 L664.0,974.2 L667.1,976.9 L669.8,990.7 L673.5,986.5 L677.8,981.1 L682.1,976.9 L686.3,972.6 L690.1,984.3 L692.7,970.5 L694.9,963.1 L697.5,964.2 L700.2,972.6 L702.9,985.4 L705.0,986.5 L707.1,974.7 L709.3,954.6 L711.9,968.3 L714.1,984.3 L716.2,966.3 L717.8,953.5 L720.5,961.0 L723.1,966.3 L725.8,972.6 L728.5,974.7 L731.1,968.3 L733.8,963.1 L735.9,989.7 L737.5,991.8 L739.1,971.5 L740.7,966.3 L742.3,967.3" fill="none" stroke="#000000" stroke-width="3.5" stroke-linejoin="round" stroke-linecap="round"/>

<rect x="505.3" y="714.1" width="238.2" height="184.89999999999998" fill="#fff" stroke="#000" stroke-width="2.2"/>
<line x1="516.7" y1="798.4" x2="518.1" y2="823.5" stroke="#8a8a8a" stroke-width="1.0" stroke-linecap="round"/>
<line x1="616.2" y1="864.4" x2="616.2" y2="891.6" stroke="#8a8a8a" stroke-width="1.0" stroke-linecap="round"/>
<line x1="729.6" y1="807.0" x2="726.2" y2="830.8" stroke="#8a8a8a" stroke-width="1.0" stroke-linecap="round"/>
<line x1="626.9" y1="749.2" x2="625.9" y2="770.9" stroke="#8a8a8a" stroke-width="1.0" stroke-linecap="round"/>
<line x1="518.1" y1="823.5" x2="616.2" y2="891.6" stroke="#8a8a8a" stroke-width="1.0" stroke-linecap="round"/>
<line x1="616.2" y1="891.6" x2="726.2" y2="830.8" stroke="#8a8a8a" stroke-width="1.0" stroke-linecap="round"/>
<line x1="726.2" y1="830.8" x2="625.9" y2="770.9" stroke="#8a8a8a" stroke-width="1.0" stroke-linecap="round"/>
<line x1="625.9" y1="770.9" x2="518.1" y2="823.5" stroke="#8a8a8a" stroke-width="1.0" stroke-linecap="round"/>
<polygon points="515.4,771.5 616.2,835.8 616.2,864.4 516.7,798.4" fill="#c0c0fc"/>
<polygon points="616.2,835.8 729.6,777.1 729.6,807.0 616.2,864.4" fill="#8787b9"/>
<polygon points="515.4,771.5 626.9,721.0 729.6,777.1 616.2,835.8" fill="#9898cd"/>
<polyline points="516.7,798.4 616.2,864.4 729.6,807.0" fill="none" stroke="#8a8a8a" stroke-width="1.0"/>
<defs><clipPath id="clip_b"><polygon points="562.8,773.5 562.4,772.5 563.1,772.0 573.0,767.4 582.8,762.9 592.5,758.4 602.2,754.0 604.0,754.3 615.6,761.1 616.3,761.3 618.1,761.1 622.1,759.2 622.6,758.3 610.6,751.2 610.1,750.3 624.4,743.6 626.2,744.0 634.6,748.8 643.1,753.7 651.8,758.6 660.5,763.6 659.9,764.6 646.6,771.3 647.0,772.2 650.7,774.4 651.5,774.6 653.3,774.4 666.2,768.1 668.1,767.8 681.9,775.6 681.3,776.6 671.8,781.3 662.2,786.0 652.6,790.8 642.8,795.7 640.9,795.3 627.7,787.7 625.9,787.9 621.8,789.9 621.3,790.4 621.7,791.4 634.0,798.8 634.5,799.9 619.3,807.5 617.4,807.1 608.4,801.5 599.6,796.0 590.9,790.6 582.3,785.3 583.0,784.2 597.1,777.3 596.8,776.4 593.2,774.2 592.4,773.9 590.6,774.2 577.1,780.6 575.1,780.8 562.8,773.5"/></clipPath></defs>
<g clip-path="url(#clip_b)">
<polygon points="562.8,773.5 562.4,772.5 563.1,772.0 573.0,767.4 582.8,762.9 592.5,758.4 602.2,754.0 604.0,754.3 615.6,761.1 616.3,761.3 618.1,761.1 622.1,759.2 622.6,758.3 610.6,751.2 610.1,750.3 624.4,743.6 626.2,744.0 634.6,748.8 643.1,753.7 651.8,758.6 660.5,763.6 659.9,764.6 646.6,771.3 647.0,772.2 650.7,774.4 651.5,774.6 653.3,774.4 666.2,768.1 668.1,767.8 681.9,775.6 681.3,776.6 671.8,781.3 662.2,786.0 652.6,790.8 642.8,795.7 640.9,795.3 627.7,787.7 625.9,787.9 621.8,789.9 621.3,790.4 621.7,791.4 634.0,798.8 634.5,799.9 619.3,807.5 617.4,807.1 608.4,801.5 599.6,796.0 590.9,790.6 582.3,785.3 583.0,784.2 597.1,777.3 596.8,776.4 593.2,774.2 592.4,773.9 590.6,774.2 577.1,780.6 575.1,780.8 562.8,773.5" fill="#8a8abc"/>
<polygon points="562.8,773.5 562.4,772.5 562.8,791.8 563.2,792.8" fill="#8a8abc" stroke="#8a8abc" stroke-width="0.6"/>
<polygon points="562.4,772.5 563.1,772.0 563.5,791.3 562.8,791.8" fill="#8a8abc" stroke="#8a8abc" stroke-width="0.6"/>
<polygon points="563.1,772.0 573.0,767.4 573.3,786.8 563.5,791.3" fill="#8a8abc" stroke="#8a8abc" stroke-width="0.6"/>
<polygon points="573.0,767.4 582.8,762.9 583.1,782.3 573.3,786.8" fill="#8a8abc" stroke="#8a8abc" stroke-width="0.6"/>
<polygon points="582.8,762.9 592.5,758.4 592.7,777.9 583.1,782.3" fill="#8a8abc" stroke="#8a8abc" stroke-width="0.6"/>
<polygon points="592.5,758.4 602.2,754.0 602.3,773.6 592.7,777.9" fill="#8a8abc" stroke="#8a8abc" stroke-width="0.6"/>
<polygon points="602.2,754.0 604.0,754.3 604.1,774.0 602.3,773.6" fill="#b1b1e8" stroke="#b1b1e8" stroke-width="0.6"/>
<polygon points="604.0,754.3 615.6,761.1 615.6,780.8 604.1,774.0" fill="#c6c6ff" stroke="#c6c6ff" stroke-width="0.6"/>
<polygon points="615.6,761.1 616.3,761.3 616.4,781.1 615.6,780.8" fill="#b9b9f1" stroke="#b9b9f1" stroke-width="0.6"/>
<polygon points="616.3,761.3 618.1,761.1 618.1,780.9 616.4,781.1" fill="#a0a0d5" stroke="#a0a0d5" stroke-width="0.6"/>
<polygon points="618.1,761.1 622.1,759.2 622.1,779.0 618.1,780.9" fill="#8a8abc" stroke="#8a8abc" stroke-width="0.6"/>
<polygon points="622.1,759.2 622.6,758.3 622.6,778.2 622.1,779.0" fill="#8a8abc" stroke="#8a8abc" stroke-width="0.6"/>
<polygon points="622.6,758.3 610.6,751.2 610.7,770.9 622.6,778.2" fill="#8a8abc" stroke="#8a8abc" stroke-width="0.6"/>
<polygon points="610.6,751.2 610.1,750.3 610.2,769.9 610.7,770.9" fill="#8a8abc" stroke="#8a8abc" stroke-width="0.6"/>
<polygon points="610.1,750.3 624.4,743.6 624.4,763.4 610.2,769.9" fill="#8a8abc" stroke="#8a8abc" stroke-width="0.6"/>
<polygon points="624.4,743.6 626.2,744.0 626.2,763.8 624.4,763.4" fill="#b1b1e8" stroke="#b1b1e8" stroke-width="0.6"/>
<polygon points="626.2,744.0 634.6,748.8 634.5,768.7 626.2,763.8" fill="#c6c6ff" stroke="#c6c6ff" stroke-width="0.6"/>
<polygon points="634.6,748.8 643.1,753.7 643.1,773.6 634.5,768.7" fill="#c6c6ff" stroke="#c6c6ff" stroke-width="0.6"/>
<polygon points="643.1,753.7 651.8,758.6 651.7,778.7 643.1,773.6" fill="#c6c6ff" stroke="#c6c6ff" stroke-width="0.6"/>
<polygon points="651.8,758.6 660.5,763.6 660.4,783.8 651.7,778.7" fill="#c6c6ff" stroke="#c6c6ff" stroke-width="0.6"/>
<polygon points="660.5,763.6 659.9,764.6 659.8,784.7 660.4,783.8" fill="#c6c6ff" stroke="#c6c6ff" stroke-width="0.6"/>
<polygon points="659.9,764.6 646.6,771.3 646.5,791.3 659.8,784.7" fill="#c6c6ff" stroke="#c6c6ff" stroke-width="0.6"/>
<polygon points="646.6,771.3 647.0,772.2 646.9,792.3 646.5,791.3" fill="#c6c6ff" stroke="#c6c6ff" stroke-width="0.6"/>
<polygon points="647.0,772.2 650.7,774.4 650.6,794.5 646.9,792.3" fill="#c6c6ff" stroke="#c6c6ff" stroke-width="0.6"/>
<polygon points="650.7,774.4 651.5,774.6 651.4,794.8 650.6,794.5" fill="#b9b9f1" stroke="#b9b9f1" stroke-width="0.6"/>
<polygon points="651.5,774.6 653.3,774.4 653.2,794.6 651.4,794.8" fill="#a0a0d5" stroke="#a0a0d5" stroke-width="0.6"/>
<polygon points="653.3,774.4 666.2,768.1 666.0,788.3 653.2,794.6" fill="#8a8abc" stroke="#8a8abc" stroke-width="0.6"/>
<polygon points="666.2,768.1 668.1,767.8 668.0,788.1 666.0,788.3" fill="#9f9fd3" stroke="#9f9fd3" stroke-width="0.6"/>
<polygon points="668.1,767.8 681.9,775.6 681.7,796.1 668.0,788.1" fill="#c6c6ff" stroke="#c6c6ff" stroke-width="0.6"/>
<polygon points="681.9,775.6 681.3,776.6 681.1,797.1 681.7,796.1" fill="#c6c6ff" stroke="#c6c6ff" stroke-width="0.6"/>
<polygon points="621.8,789.9 621.3,790.4 621.3,810.3 621.8,809.8" fill="#c6c6ff" stroke="#c6c6ff" stroke-width="0.6"/>
<polygon points="621.3,790.4 621.7,791.4 621.7,811.3 621.3,810.3" fill="#c6c6ff" stroke="#c6c6ff" stroke-width="0.6"/>
<polygon points="621.7,791.4 634.0,798.8 633.9,818.8 621.7,811.3" fill="#c6c6ff" stroke="#c6c6ff" stroke-width="0.6"/>
<polygon points="634.0,798.8 634.5,799.9 634.4,819.9 633.9,818.8" fill="#c6c6ff" stroke="#c6c6ff" stroke-width="0.6"/>
<polygon points="617.4,807.1 608.4,801.5 608.5,821.3 617.4,827.0" fill="#8a8abc" stroke="#8a8abc" stroke-width="0.6"/>
<polygon points="608.4,801.5 599.6,796.0 599.7,815.7 608.5,821.3" fill="#8a8abc" stroke="#8a8abc" stroke-width="0.6"/>
<polygon points="599.6,796.0 590.9,790.6 591.1,810.2 599.7,815.7" fill="#8a8abc" stroke="#8a8abc" stroke-width="0.6"/>
<polygon points="590.9,790.6 582.3,785.3 582.5,804.8 591.1,810.2" fill="#8a8abc" stroke="#8a8abc" stroke-width="0.6"/>
<polygon points="582.3,785.3 583.0,784.2 583.3,803.7 582.5,804.8" fill="#8a8abc" stroke="#8a8abc" stroke-width="0.6"/>
<polygon points="583.0,784.2 597.1,777.3 597.3,797.0 583.3,803.7" fill="#8a8abc" stroke="#8a8abc" stroke-width="0.6"/>
<polygon points="597.1,777.3 596.8,776.4 596.9,796.0 597.3,797.0" fill="#8a8abc" stroke="#8a8abc" stroke-width="0.6"/>
<polygon points="563.2,792.8 562.8,791.8 563.5,791.3 573.3,786.8 583.1,782.3 592.7,777.9 602.3,773.6 604.1,774.0 615.6,780.8 616.4,781.1 618.1,780.9 622.1,779.0 622.6,778.2 610.7,770.9 610.2,769.9 624.4,763.4 626.2,763.8 634.5,768.7 643.1,773.6 651.7,778.7 660.4,783.8 659.8,784.7 646.5,791.3 646.9,792.3 650.6,794.5 651.4,794.8 653.2,794.6 666.0,788.3 668.0,788.1 681.7,796.1 681.1,797.1 671.7,801.7 662.1,806.4 652.5,811.1 642.7,815.8 640.8,815.4 627.7,807.6 625.9,807.8 621.8,809.8 621.3,810.3 621.7,811.3 633.9,818.8 634.4,819.9 619.3,827.4 617.4,827.0 608.5,821.3 599.7,815.7 591.1,810.2 582.5,804.8 583.3,803.7 597.3,797.0 596.9,796.0 593.3,793.8 592.6,793.5 590.8,793.7 577.3,800.0 575.4,800.2 563.2,792.8" fill="#9696cb" stroke="#5a5af5" stroke-width="1.0"/>
</g>
<polygon points="562.8,773.5 562.4,772.5 563.1,772.0 573.0,767.4 582.8,762.9 592.5,758.4 602.2,754.0 604.0,754.3 615.6,761.1 616.3,761.3 618.1,761.1 622.1,759.2 622.6,758.3 610.6,751.2 610.1,750.3 624.4,743.6 626.2,744.0 634.6,748.8 643.1,753.7 651.8,758.6 660.5,763.6 659.9,764.6 646.6,771.3 647.0,772.2 650.7,774.4 651.5,774.6 653.3,774.4 666.2,768.1 668.1,767.8 681.9,775.6 681.3,776.6 671.8,781.3 662.2,786.0 652.6,790.8 642.8,795.7 640.9,795.3 627.7,787.7 625.9,787.9 621.8,789.9 621.3,790.4 621.7,791.4 634.0,798.8 634.5,799.9 619.3,807.5 617.4,807.1 608.4,801.5 599.6,796.0 590.9,790.6 582.3,785.3 583.0,784.2 597.1,777.3 596.8,776.4 593.2,774.2 592.4,773.9 590.6,774.2 577.1,780.6 575.1,780.8 562.8,773.5" fill="none" stroke="#5a5af5" stroke-width="1.0" stroke-linejoin="round"/>
<polygon points="515.4,771.5 626.9,721.0 729.6,777.1 616.2,835.8" fill="none" stroke="#5a5af5" stroke-width="1.2" stroke-linejoin="round"/>
<line x1="616.2" y1="835.8" x2="616.2" y2="864.4" stroke="#5a5af5" stroke-width="1.2"/>
<line x1="515.4" y1="771.5" x2="516.7" y2="798.4" stroke="#5a5af5" stroke-width="1.2" opacity="0.5"/>
<line x1="729.6" y1="777.1" x2="729.6" y2="807.0" stroke="#5a5af5" stroke-width="1.2" opacity="0.5"/>
<rect x="116.1" y="714.1" width="627.4" height="504.4" fill="none" stroke="#000" stroke-width="3.1"/>
<line x1="116.1" y1="1218.5" x2="116.1" y2="1230.0" stroke="#000" stroke-width="3.1"/>
<line x1="173.7" y1="1218.5" x2="173.7" y2="1230.0" stroke="#000" stroke-width="3.1"/>
<line x1="230.7" y1="1218.5" x2="230.7" y2="1235.5" stroke="#000" stroke-width="3.1"/>
<line x1="287.6" y1="1218.5" x2="287.6" y2="1230.0" stroke="#000" stroke-width="3.1"/>
<line x1="344.6" y1="1218.5" x2="344.6" y2="1230.0" stroke="#000" stroke-width="3.1"/>
<line x1="401.6" y1="1218.5" x2="401.6" y2="1230.0" stroke="#000" stroke-width="3.1"/>
<line x1="458.6" y1="1218.5" x2="458.6" y2="1235.5" stroke="#000" stroke-width="3.1"/>
<line x1="515.6" y1="1218.5" x2="515.6" y2="1230.0" stroke="#000" stroke-width="3.1"/>
<line x1="572.6" y1="1218.5" x2="572.6" y2="1230.0" stroke="#000" stroke-width="3.1"/>
<line x1="629.5" y1="1218.5" x2="629.5" y2="1230.0" stroke="#000" stroke-width="3.1"/>
<line x1="686.5" y1="1218.5" x2="686.5" y2="1235.5" stroke="#000" stroke-width="3.1"/>
<line x1="743.5" y1="1218.5" x2="743.5" y2="1230.0" stroke="#000" stroke-width="3.1"/>
<text x="231.0" y="1267.8" font-size="29.8" text-anchor="middle">600</text>
<text x="458.9" y="1267.8" font-size="29.8" text-anchor="middle">620</text>
<text x="686.8" y="1267.8" font-size="29.8" text-anchor="middle">640</text>
<text x="102" y="724.5" font-size="29.8" text-anchor="end">100</text>
<text x="102" y="850.4" font-size="29.8" text-anchor="end">50</text>
<text x="102" y="976.3" font-size="29.8" text-anchor="end">0</text>
<text x="102" y="1102.2" font-size="29.8" text-anchor="end">50</text>
<rect x="53.5" y="1092.73" width="15.5" height="2.5" fill="#000"/>
<text x="102" y="1228.1" font-size="29.8" text-anchor="end">100</text>
<rect x="37.3" y="1218.60" width="15.3" height="2.5" fill="#000"/>
<text x="430.0" y="696.5" font-size="31.3" text-anchor="middle">400 nm width, 300 nm spacing</text>
<text x="112.5" y="685" font-size="42.5" font-weight="bold">b</text>
<text transform="translate(21.8,966.3) rotate(-90)" font-size="29.2" text-anchor="middle">Luminescence difference (arb. units)</text>
<line x1="116.5" y1="1839.6" x2="747.5" y2="1839.6" stroke="#707070" stroke-width="1.3" stroke-dasharray="2.2 2.1"/>
<line x1="116.5" y1="1814.2" x2="747.5" y2="1814.2" stroke="#707070" stroke-width="1.3" stroke-dasharray="2.2 2.1"/>
<line x1="116.5" y1="1788.8" x2="747.5" y2="1788.8" stroke="#707070" stroke-width="1.3" stroke-dasharray="2.2 2.1"/>
<line x1="116.5" y1="1763.3" x2="747.5" y2="1763.3" stroke="#707070" stroke-width="1.3" stroke-dasharray="2.2 2.1"/>
<line x1="116.5" y1="1712.5" x2="747.5" y2="1712.5" stroke="#707070" stroke-width="1.3" stroke-dasharray="2.2 2.1"/>
<line x1="116.5" y1="1687.1" x2="747.5" y2="1687.1" stroke="#707070" stroke-width="1.3" stroke-dasharray="2.2 2.1"/>
<line x1="116.5" y1="1661.6" x2="747.5" y2="1661.6" stroke="#707070" stroke-width="1.3" stroke-dasharray="2.2 2.1"/>
<line x1="116.5" y1="1636.2" x2="747.5" y2="1636.2" stroke="#707070" stroke-width="1.3" stroke-dasharray="2.2 2.1"/>
<line x1="116.5" y1="1585.3" x2="747.5" y2="1585.3" stroke="#707070" stroke-width="1.3" stroke-dasharray="2.2 2.1"/>
<line x1="116.5" y1="1559.9" x2="747.5" y2="1559.9" stroke="#707070" stroke-width="1.3" stroke-dasharray="2.2 2.1"/>
<line x1="116.5" y1="1534.5" x2="747.5" y2="1534.5" stroke="#707070" stroke-width="1.3" stroke-dasharray="2.2 2.1"/>
<line x1="116.5" y1="1509.1" x2="747.5" y2="1509.1" stroke="#707070" stroke-width="1.3" stroke-dasharray="2.2 2.1"/>
<line x1="116.5" y1="1458.2" x2="747.5" y2="1458.2" stroke="#707070" stroke-width="1.3" stroke-dasharray="2.2 2.1"/>
<line x1="116.5" y1="1432.8" x2="747.5" y2="1432.8" stroke="#707070" stroke-width="1.3" stroke-dasharray="2.2 2.1"/>
<line x1="116.5" y1="1407.4" x2="747.5" y2="1407.4" stroke="#707070" stroke-width="1.3" stroke-dasharray="2.2 2.1"/>
<line x1="116.5" y1="1381.9" x2="747.5" y2="1381.9" stroke="#707070" stroke-width="1.3" stroke-dasharray="2.2 2.1"/>
<line x1="116.5" y1="1737.9" x2="747.5" y2="1737.9" stroke="#444" stroke-width="1.3"/>
<line x1="116.5" y1="1610.8" x2="747.5" y2="1610.8" stroke="#444" stroke-width="1.3"/>
<line x1="116.5" y1="1483.6" x2="747.5" y2="1483.6" stroke="#444" stroke-width="1.3"/>
<rect x="122.2" y="1366.6" width="326.6" height="55.2" fill="#f1f1f1"/>
<text x="138.8" y="1405.4" font-size="27" fill="#ff0000">ΔIE<tspan font-size="18" dy="4.6">RCP</tspan><tspan dy="-4.6"> − ΔIE</tspan><tspan font-size="18" dy="8.4">LCP</tspan><tspan dy="-8.4"> = −0.022</tspan></text>
<rect x="120.2" y="1802.6" width="317.6" height="56.4" fill="#f1f1f1"/>
<text x="137.2" y="1840.8" font-size="27" fill="#0a2aff">ΔIE<tspan font-size="18" dy="4.6">RCP</tspan><tspan dy="-4.6"> − ΔIE</tspan><tspan font-size="18" dy="8.4">LCP</tspan><tspan dy="-8.4"> = 0.022</tspan></text>
<path d="M116.0,1621.7 L118.0,1617.7 L120.0,1613.7 L122.7,1601.7 L125.3,1592.3 L127.3,1585.7 L129.3,1580.3 L131.3,1588.3 L133.3,1601.7 L136.0,1615.0 L138.7,1619.0 L141.3,1611.0 L143.3,1601.7 L145.3,1596.3 L147.3,1603.0 L149.3,1612.3 L152.0,1615.0 L154.7,1608.3 L157.3,1596.3 L160.0,1601.7 L162.7,1604.3 L165.3,1603.0 L168.0,1600.3 L170.7,1599.0 L173.3,1597.7 L176.0,1599.0 L178.7,1600.3 L181.3,1604.3 L184.0,1601.7 L186.0,1605.7 L188.0,1615.0 L190.7,1617.7 L193.3,1616.3 L196.0,1611.0 L198.7,1601.7 L201.3,1591.0 L203.3,1581.7 L205.3,1585.7 L208.0,1600.3 L210.0,1601.7 L212.7,1615.0 L215.3,1628.3 L218.0,1607.0 L220.0,1597.7 L222.0,1604.3 L224.0,1605.7 L226.0,1601.7 L228.7,1588.3 L231.3,1581.7 L234.0,1585.7 L236.7,1591.0 L238.7,1599.0 L240.7,1605.7 L243.3,1609.7 L246.0,1612.3 L248.7,1603.0 L251.3,1599.0 L254.0,1601.7 L256.7,1605.7 L259.3,1607.0 L262.0,1604.3 L264.7,1603.0 L267.3,1601.7 L270.0,1601.7 L272.7,1605.7 L275.3,1620.3 L277.3,1611.0 L279.3,1601.7 L282.0,1605.7 L284.7,1605.7 L286.7,1599.0 L288.7,1593.7 L291.3,1596.3 L294.0,1604.3 L296.7,1605.7 L299.3,1600.3 L302.0,1601.7 L304.7,1591.0 L307.3,1583.0 L310.0,1585.7 L314.8,1588.8 L319.1,1593.1 L322.3,1560.0 L326.5,1553.6 L330.8,1579.2 L335.1,1544.0 L338.3,1535.5 L342.5,1519.5 L346.8,1548.3 L350.6,1529.1 L354.3,1526.9 L357.9,1523.7 L361.7,1512.0 L367.1,1510.9 L371.3,1522.7 L374.5,1523.7 L378.4,1552.5 L382.0,1531.2 L386.3,1515.2 L390.5,1522.7 L393.7,1520.5 L398.0,1533.3 L401.2,1531.2 L405.5,1529.1 L409.7,1544.0 L414.0,1557.9 L419.3,1544.0 L424.3,1533.3 L429.6,1528.0 L433.9,1532.3 L437.1,1552.5 L441.3,1553.6 L445.6,1538.7 L449.9,1558.9 L454.1,1552.5 L457.3,1533.3 L460.5,1549.3 L464.8,1541.9 L469.1,1536.5 L472.9,1558.9 L476.5,1524.8 L480.8,1539.7 L484.0,1531.2 L488.3,1518.4 L492.5,1523.7 L496.8,1518.4 L501.1,1520.5 L505.3,1531.2 L508.5,1539.7 L512.8,1536.5 L517.1,1542.9 L521.3,1549.3 L525.6,1544.0 L528.4,1525.9 L532.0,1548.3 L536.3,1548.3 L540.5,1556.8 L544.8,1528.0 L548.0,1539.7 L552.3,1552.5 L555.5,1568.5 L559.7,1563.2 L564.0,1563.2 L568.3,1560.0 L572.5,1564.3 L575.7,1569.6 L580.0,1564.3 L584.0,1575.0 L586.0,1595.0 L587.3,1605.7 L590.0,1597.7 L592.7,1585.7 L595.3,1581.7 L597.3,1591.0 L599.3,1609.7 L601.3,1599.0 L603.3,1588.3 L605.3,1601.7 L607.3,1615.0 L610.0,1604.3 L612.7,1592.3 L615.3,1584.3 L617.3,1599.0 L619.3,1619.0 L622.0,1611.0 L624.7,1600.3 L627.3,1595.0 L629.3,1609.7 L632.0,1625.7 L637.7,1604.3 L640.3,1601.7 L643.0,1615.0 L645.7,1623.0 L648.3,1615.0 L651.0,1607.0 L653.7,1612.3 L656.3,1617.7 L659.0,1613.7 L661.7,1611.0 L664.3,1609.7 L667.0,1615.0 L669.7,1611.0 L672.3,1605.7 L675.0,1607.0 L677.7,1599.0 L680.3,1604.3 L683.0,1615.0 L685.7,1619.0 L688.3,1625.7 L690.3,1637.7 L692.3,1627.0 L695.0,1615.0 L697.7,1635.0 L700.3,1623.0 L703.0,1615.0 L705.7,1605.7 L708.3,1601.7 L710.3,1593.7 L712.3,1604.3 L715.0,1625.7 L717.7,1615.0 L720.3,1609.7 L723.0,1612.3 L725.7,1607.0 L728.3,1604.3 L731.0,1601.7 L733.7,1604.3 L738.0,1602.3 L742.7,1586.0 L745.0,1604.7" fill="none" stroke="#ff0000" stroke-width="3.5" stroke-linejoin="round" stroke-linecap="round"/>
<path d="M116.0,1613.7 L118.0,1615.0 L120.7,1611.0 L123.3,1613.7 L125.3,1608.3 L127.3,1597.7 L129.3,1592.3 L131.3,1601.7 L133.3,1616.3 L135.3,1607.0 L137.3,1603.0 L139.3,1605.7 L141.3,1609.7 L144.0,1615.0 L147.3,1611.0 L150.0,1607.0 L152.7,1605.7 L154.7,1615.0 L156.7,1624.3 L158.7,1604.3 L160.7,1596.3 L162.7,1600.3 L164.7,1608.3 L166.7,1599.0 L168.7,1593.7 L170.7,1604.3 L173.3,1611.0 L176.0,1609.7 L178.7,1613.7 L181.3,1613.7 L184.0,1613.7 L186.7,1611.0 L189.3,1609.7 L192.0,1608.3 L194.7,1605.7 L197.3,1611.0 L200.0,1599.0 L202.7,1607.0 L205.3,1611.0 L208.0,1609.7 L210.0,1597.7 L212.0,1596.3 L214.0,1609.7 L216.0,1624.3 L218.0,1615.0 L220.0,1604.3 L222.0,1615.0 L224.0,1623.0 L226.0,1608.3 L228.0,1600.3 L230.0,1604.3 L232.7,1609.7 L236.0,1616.3 L238.7,1607.0 L240.7,1601.7 L243.3,1612.3 L246.0,1615.0 L248.7,1605.7 L251.3,1600.3 L254.0,1603.0 L256.7,1607.0 L259.3,1609.7 L262.0,1601.7 L264.7,1600.3 L267.3,1612.3 L270.0,1627.0 L272.7,1615.0 L275.3,1591.0 L278.0,1593.7 L280.7,1601.7 L283.3,1608.3 L286.0,1615.0 L288.7,1616.3 L291.3,1613.7 L294.0,1623.0 L296.0,1628.3 L298.7,1625.7 L301.3,1621.7 L304.0,1621.7 L306.7,1625.7 L309.3,1631.0 L310.5,1631.6 L314.8,1632.7 L319.1,1641.2 L323.3,1646.5 L327.6,1656.1 L331.9,1658.3 L335.1,1668.9 L338.3,1671.1 L342.5,1688.1 L346.4,1679.6 L350.0,1696.7 L354.3,1695.6 L358.5,1707.3 L362.8,1711.6 L367.1,1718.0 L370.3,1722.3 L374.5,1741.5 L377.7,1737.2 L380.9,1724.4 L383.1,1726.5 L386.3,1758.5 L390.5,1754.3 L393.7,1754.3 L398.0,1739.3 L402.3,1728.7 L406.5,1737.2 L409.7,1735.1 L414.0,1741.5 L418.3,1735.1 L423.2,1730.8 L428.5,1730.8 L433.2,1715.9 L437.1,1726.5 L441.3,1730.8 L445.6,1718.0 L449.9,1711.6 L453.1,1696.7 L457.3,1695.6 L461.0,1709.5 L465.2,1687.1 L469.1,1699.9 L473.3,1696.7 L478.7,1684.9 L484.0,1678.5 L488.3,1673.2 L493.0,1692.4 L497.9,1682.8 L501.1,1679.6 L505.3,1683.9 L509.2,1663.6 L512.8,1671.1 L517.1,1671.1 L520.3,1665.7 L524.5,1675.3 L527.7,1677.5 L532.0,1670.0 L536.3,1663.6 L540.5,1658.3 L544.8,1652.9 L549.1,1658.3 L552.3,1667.9 L555.3,1636.3 L558.7,1636.3 L561.3,1637.7 L564.0,1640.3 L566.7,1639.0 L569.3,1637.7 L572.0,1644.3 L574.7,1637.7 L577.3,1632.3 L580.0,1631.0 L582.7,1629.7 L585.3,1619.0 L587.3,1609.7 L590.0,1613.7 L592.7,1620.3 L596.0,1624.3 L598.7,1627.0 L601.3,1623.0 L604.0,1619.0 L606.7,1617.7 L608.7,1620.3 L611.3,1627.0 L614.0,1623.0 L616.7,1617.7 L620.0,1615.0 L623.3,1612.3 L626.7,1609.7 L630.0,1607.0 L633.3,1601.7 L637.7,1607.0 L640.3,1617.7 L642.3,1628.3 L644.3,1615.0 L646.3,1597.7 L648.3,1601.7 L651.0,1619.0 L653.7,1613.7 L656.3,1607.0 L659.0,1605.7 L661.7,1605.7 L664.3,1607.0 L667.0,1609.7 L669.7,1611.0 L672.3,1613.7 L675.0,1613.7 L677.7,1601.7 L680.3,1603.0 L683.0,1605.7 L685.7,1609.7 L688.3,1613.7 L691.0,1615.0 L693.7,1613.7 L696.3,1608.3 L699.0,1599.0 L701.7,1589.7 L704.3,1600.3 L707.0,1612.3 L709.7,1619.0 L712.3,1611.0 L715.0,1605.7 L717.7,1600.3 L720.3,1604.3 L723.0,1609.7 L725.7,1613.7 L728.3,1609.7 L731.0,1608.3 L733.7,1608.3 L738.0,1604.7 L742.7,1601.2 L745.0,1601.2" fill="none" stroke="#0000ff" stroke-width="3.5" stroke-linejoin="round" stroke-linecap="round"/>
<path d="M116.4,1634.9 L118.4,1634.2 L120.4,1622.2 L123.1,1610.1 L125.1,1602.1 L127.2,1610.1 L129.2,1622.2 L131.2,1630.2 L133.2,1635.5 L135.2,1626.2 L137.8,1618.2 L141.2,1616.9 L143.3,1628.9 L145.3,1642.3 L147.9,1631.5 L150.6,1620.9 L153.3,1610.1 L156.6,1596.8 L159.3,1604.8 L162.0,1614.1 L164.7,1623.5 L168.0,1619.5 L170.7,1614.1 L172.7,1610.1 L175.4,1618.2 L178.1,1622.2 L180.8,1618.2 L183.5,1614.1 L185.5,1611.4 L187.5,1622.2 L189.5,1634.2 L192.1,1628.9 L194.1,1618.2 L196.2,1600.8 L198.2,1615.4 L200.2,1634.2 L202.2,1636.9 L204.9,1628.9 L207.6,1622.2 L210.2,1622.2 L210.9,1623.5 L213.0,1628.9 L215.7,1636.9 L218.3,1627.5 L221.0,1616.9 L223.7,1607.4 L226.3,1614.1 L228.3,1618.2 L231.1,1611.4 L233.8,1614.1 L236.4,1618.2 L239.8,1623.5 L242.4,1611.4 L244.4,1600.8 L247.1,1610.1 L249.9,1618.2 L252.5,1623.5 L255.2,1635.5 L257.9,1608.8 L259.9,1590.0 L261.9,1607.4 L264.5,1627.5 L267.3,1635.5 L270.0,1622.2 L272.6,1608.8 L275.3,1599.4 L278.0,1604.8 L280.6,1611.4 L284.1,1604.8 L286.7,1583.3 L290.1,1588.7 L292.7,1594.0 L295.4,1596.8 L298.1,1602.1 L300.1,1607.4 L302.8,1610.1 L304.8,1591.3 L306.8,1578.0 L308.5,1600.8 L310.5,1612.8 L312.5,1604.8 L314.5,1599.4 L317.2,1598.1 L319.9,1596.8 L323.3,1595.4 L326.6,1596.8 L329.9,1600.8 L332.6,1606.1 L334.6,1608.8 L336.7,1600.8 L338.7,1591.3 L341.4,1598.1 L344.0,1604.8 L346.7,1606.1 L348.7,1595.4 L350.7,1584.7 L352.7,1594.0 L354.8,1602.1 L357.5,1595.4 L360.1,1586.0 L362.1,1578.0 L364.1,1594.0 L366.1,1609.4 L368.1,1598.1 L370.1,1588.7 L372.2,1591.3 L374.9,1596.8 L378.9,1599.4 L380.9,1614.1 L382.9,1624.9 L385.6,1616.9 L388.3,1619.5 L391.0,1624.9 L394.3,1631.5 L396.3,1622.2 L398.3,1612.8 L400.3,1627.5 L404.0,1628.9 L406.1,1616.9 L409.4,1612.8 L411.4,1623.5 L413.8,1641.0 L415.4,1623.5 L416.8,1603.4 L419.4,1600.8 L422.1,1600.8 L424.9,1607.4 L428.2,1611.4 L430.2,1616.9 L432.2,1638.3 L433.5,1655.6 L436.2,1641.0 L438.9,1622.2 L441.6,1607.4 L445.0,1594.0 L447.6,1599.4 L450.3,1608.8 L453.0,1624.9 L455.0,1622.2 L457.0,1618.2 L459.1,1626.2 L461.1,1636.9 L465.1,1627.5 L469.1,1622.2 L473.1,1615.4 L476.5,1614.1 L479.2,1620.9 L481.8,1627.5 L485.2,1627.5 L488.5,1619.5 L491.2,1615.4 L493.2,1627.5 L495.3,1615.4 L500.3,1620.9 L502.9,1603.4 L504.9,1599.4 L507.6,1606.1 L510.3,1614.1 L513.0,1622.2 L516.4,1623.5 L519.0,1620.9 L521.7,1622.2 L524.4,1627.5 L527.0,1616.9 L529.8,1599.4 L532.2,1594.0 L534.5,1602.1 L537.1,1619.5 L539.8,1632.9 L543.1,1626.2 L545.8,1619.5 L548.6,1610.1 L551.9,1602.1 L554.6,1610.1 L557.2,1619.5 L559.9,1624.9 L561.9,1635.5 L564.0,1649.0 L566.0,1628.9 L567.3,1615.4 L569.3,1628.9 L571.3,1639.6 L573.3,1628.9 L575.3,1622.2 L577.3,1628.9 L579.3,1642.3 L581.4,1634.2 L583.4,1627.5 L586.1,1626.2 L588.8,1626.2 L591.4,1649.0 L595.1,1624.9 L597.1,1618.2 L599.9,1616.9 L602.5,1623.5 L605.2,1631.5 L607.2,1634.2 L609.2,1618.2 L611.9,1607.4 L614.5,1618.2 L617.3,1620.9 L620.0,1623.5 L622.6,1635.5 L625.3,1624.9 L627.3,1618.2 L629.3,1624.9 L632.0,1636.9 L634.7,1642.3 L638.1,1642.3 L641.4,1636.9 L644.7,1628.9 L648.1,1623.5 L650.7,1622.2 L653.5,1626.2 L655.5,1628.9 L657.5,1610.1 L659.1,1602.1 L660.8,1612.8 L662.8,1627.5 L665.5,1622.2 L667.5,1618.2 L670.7,1620.9 L673.4,1634.7 L677.1,1630.5 L681.4,1625.1 L685.7,1620.9 L690.0,1616.6 L693.8,1628.3 L696.4,1614.4 L698.6,1606.9 L701.2,1608.0 L704.0,1616.6 L706.7,1629.4 L708.8,1630.5 L710.9,1618.7 L713.1,1598.4 L715.7,1612.2 L717.9,1628.3 L720.0,1610.1 L721.7,1597.3 L724.4,1604.8 L727.0,1610.1 L729.7,1616.6 L732.4,1618.7 L735.0,1612.2 L737.7,1606.9 L739.9,1633.7 L741.5,1635.8 L743.1,1615.4 L744.7,1610.1 L746.3,1611.2" fill="none" stroke="#000000" stroke-width="3.5" stroke-linejoin="round" stroke-linecap="round"/>

<rect x="517.3" y="1357" width="230.20000000000005" height="167.5" fill="#fff" stroke="#000" stroke-width="2.2"/>
<line x1="528.5" y1="1433.8" x2="529.7" y2="1448.9" stroke="#a0a0a0" stroke-width="1.0" stroke-linecap="round"/>
<line x1="628.4" y1="1499.6" x2="628.2" y2="1517.0" stroke="#a0a0a0" stroke-width="1.0" stroke-linecap="round"/>
<line x1="733.4" y1="1437.8" x2="731.5" y2="1453.4" stroke="#a0a0a0" stroke-width="1.0" stroke-linecap="round"/>
<line x1="632.4" y1="1380.8" x2="632.0" y2="1394.1" stroke="#a0a0a0" stroke-width="1.0" stroke-linecap="round"/>
<line x1="529.7" y1="1448.9" x2="628.2" y2="1517.0" stroke="#a0a0a0" stroke-width="1.0" stroke-linecap="round"/>
<line x1="628.2" y1="1517.0" x2="731.5" y2="1453.4" stroke="#a0a0a0" stroke-width="1.0" stroke-linecap="round"/>
<line x1="731.5" y1="1453.4" x2="632.0" y2="1394.1" stroke="#a0a0a0" stroke-width="1.0" stroke-linecap="round"/>
<line x1="632.0" y1="1394.1" x2="529.7" y2="1448.9" stroke="#a0a0a0" stroke-width="1.0" stroke-linecap="round"/>
<polygon points="527.5,1414.9 628.8,1481.0 628.4,1499.6 528.5,1433.8" fill="#c1c1fa"/>
<polygon points="628.8,1481.0 734.6,1418.8 733.4,1437.8 628.4,1499.6" fill="#8080af"/>
<polygon points="527.5,1414.9 632.4,1361.5 734.6,1418.8 628.8,1481.0" fill="#8989b7"/>
<polyline points="528.5,1433.8 628.4,1499.6 733.4,1437.8" fill="none" stroke="#a0a0a0" stroke-width="1.0"/>
<defs><clipPath id="clip_c"><polygon points="581.4,1416.7 580.9,1415.7 581.5,1415.1 592.0,1409.7 602.4,1404.3 612.6,1399.0 614.4,1399.3 622.7,1404.3 623.5,1404.6 625.2,1404.3 630.0,1401.8 630.4,1400.8 621.7,1395.5 621.2,1394.5 631.1,1389.2 632.9,1389.5 642.4,1395.1 652.1,1400.8 661.9,1406.6 661.4,1407.6 652.3,1412.8 652.7,1413.8 657.5,1416.6 658.3,1416.9 660.0,1416.7 668.6,1411.9 670.5,1411.6 680.7,1417.5 680.2,1418.6 670.1,1424.2 660.0,1429.8 649.7,1435.6 647.8,1435.2 638.2,1429.5 636.4,1429.8 631.5,1432.5 631.1,1433.0 631.5,1434.0 640.3,1439.4 640.9,1440.6 630.3,1446.5 628.4,1446.2 618.4,1439.8 608.5,1433.5 598.7,1427.3 599.4,1426.3 609.0,1420.9 608.6,1419.9 604.0,1417.1 603.2,1416.8 601.5,1417.0 592.4,1421.9 590.5,1422.2 581.4,1416.7"/></clipPath></defs>
<g clip-path="url(#clip_c)">
<polygon points="581.4,1416.7 580.9,1415.7 581.5,1415.1 592.0,1409.7 602.4,1404.3 612.6,1399.0 614.4,1399.3 622.7,1404.3 623.5,1404.6 625.2,1404.3 630.0,1401.8 630.4,1400.8 621.7,1395.5 621.2,1394.5 631.1,1389.2 632.9,1389.5 642.4,1395.1 652.1,1400.8 661.9,1406.6 661.4,1407.6 652.3,1412.8 652.7,1413.8 657.5,1416.6 658.3,1416.9 660.0,1416.7 668.6,1411.9 670.5,1411.6 680.7,1417.5 680.2,1418.6 670.1,1424.2 660.0,1429.8 649.7,1435.6 647.8,1435.2 638.2,1429.5 636.4,1429.8 631.5,1432.5 631.1,1433.0 631.5,1434.0 640.3,1439.4 640.9,1440.6 630.3,1446.5 628.4,1446.2 618.4,1439.8 608.5,1433.5 598.7,1427.3 599.4,1426.3 609.0,1420.9 608.6,1419.9 604.0,1417.1 603.2,1416.8 601.5,1417.0 592.4,1421.9 590.5,1422.2 581.4,1416.7" fill="#7e7eae"/>
<polygon points="581.4,1416.7 580.9,1415.7 581.2,1427.0 581.6,1428.1" fill="#7e7eae" stroke="#7e7eae" stroke-width="0.6"/>
<polygon points="580.9,1415.7 581.5,1415.1 581.8,1426.5 581.2,1427.0" fill="#7e7eae" stroke="#7e7eae" stroke-width="0.6"/>
<polygon points="581.5,1415.1 592.0,1409.7 592.2,1421.0 581.8,1426.5" fill="#7e7eaf" stroke="#7e7eaf" stroke-width="0.6"/>
<polygon points="592.0,1409.7 602.4,1404.3 602.5,1415.7 592.2,1421.0" fill="#7e7eaf" stroke="#7e7eaf" stroke-width="0.6"/>
<polygon points="602.4,1404.3 612.6,1399.0 612.7,1410.4 602.5,1415.7" fill="#7e7eaf" stroke="#7e7eaf" stroke-width="0.6"/>
<polygon points="612.6,1399.0 614.4,1399.3 614.4,1410.7 612.7,1410.4" fill="#a9a9e0" stroke="#a9a9e0" stroke-width="0.6"/>
<polygon points="614.4,1399.3 622.7,1404.3 622.7,1415.7 614.4,1410.7" fill="#c0c0fa" stroke="#c0c0fa" stroke-width="0.6"/>
<polygon points="622.7,1404.3 623.5,1404.6 623.5,1416.0 622.7,1415.7" fill="#b2b2ea" stroke="#b2b2ea" stroke-width="0.6"/>
<polygon points="623.5,1404.6 625.2,1404.3 625.1,1415.7 623.5,1416.0" fill="#9696ca" stroke="#9696ca" stroke-width="0.6"/>
<polygon points="625.2,1404.3 630.0,1401.8 629.9,1413.2 625.1,1415.7" fill="#7e7eae" stroke="#7e7eae" stroke-width="0.6"/>
<polygon points="630.0,1401.8 630.4,1400.8 630.4,1412.3 629.9,1413.2" fill="#7e7eae" stroke="#7e7eae" stroke-width="0.6"/>
<polygon points="630.4,1400.8 621.7,1395.5 621.6,1406.9 630.4,1412.3" fill="#7e7eae" stroke="#7e7eae" stroke-width="0.6"/>
<polygon points="621.7,1395.5 621.2,1394.5 621.2,1405.9 621.6,1406.9" fill="#7e7eae" stroke="#7e7eae" stroke-width="0.6"/>
<polygon points="621.2,1394.5 631.1,1389.2 631.1,1400.7 621.2,1405.9" fill="#7e7eae" stroke="#7e7eae" stroke-width="0.6"/>
<polygon points="631.1,1389.2 632.9,1389.5 632.9,1401.0 631.1,1400.7" fill="#a9a9e0" stroke="#a9a9e0" stroke-width="0.6"/>
<polygon points="632.9,1389.5 642.4,1395.1 642.3,1406.6 632.9,1401.0" fill="#c0c0fa" stroke="#c0c0fa" stroke-width="0.6"/>
<polygon points="642.4,1395.1 652.1,1400.8 651.9,1412.3 642.3,1406.6" fill="#c0c0fa" stroke="#c0c0fa" stroke-width="0.6"/>
<polygon points="652.1,1400.8 661.9,1406.6 661.6,1418.0 651.9,1412.3" fill="#c0c0fa" stroke="#c0c0fa" stroke-width="0.6"/>
<polygon points="661.9,1406.6 661.4,1407.6 661.1,1419.0 661.6,1418.0" fill="#c0c0fa" stroke="#c0c0fa" stroke-width="0.6"/>
<polygon points="661.4,1407.6 652.3,1412.8 652.0,1424.2 661.1,1419.0" fill="#c0c0fa" stroke="#c0c0fa" stroke-width="0.6"/>
<polygon points="652.3,1412.8 652.7,1413.8 652.5,1425.2 652.0,1424.2" fill="#c0c0fa" stroke="#c0c0fa" stroke-width="0.6"/>
<polygon points="652.7,1413.8 657.5,1416.6 657.2,1428.0 652.5,1425.2" fill="#c0c0fa" stroke="#c0c0fa" stroke-width="0.6"/>
<polygon points="657.5,1416.6 658.3,1416.9 658.0,1428.3 657.2,1428.0" fill="#b2b2ea" stroke="#b2b2ea" stroke-width="0.6"/>
<polygon points="658.3,1416.9 660.0,1416.7 659.7,1428.1 658.0,1428.3" fill="#9696ca" stroke="#9696ca" stroke-width="0.6"/>
<polygon points="660.0,1416.7 668.6,1411.9 668.3,1423.3 659.7,1428.1" fill="#7e7eae" stroke="#7e7eae" stroke-width="0.6"/>
<polygon points="668.6,1411.9 670.5,1411.6 670.1,1423.0 668.3,1423.3" fill="#9595c8" stroke="#9595c8" stroke-width="0.6"/>
<polygon points="670.5,1411.6 680.7,1417.5 680.3,1428.9 670.1,1423.0" fill="#c0c0fa" stroke="#c0c0fa" stroke-width="0.6"/>
<polygon points="680.7,1417.5 680.2,1418.6 679.7,1430.0 680.3,1428.9" fill="#c0c0fa" stroke="#c0c0fa" stroke-width="0.6"/>
<polygon points="631.5,1432.5 631.1,1433.0 630.9,1444.3 631.4,1443.8" fill="#c0c0fa" stroke="#c0c0fa" stroke-width="0.6"/>
<polygon points="631.1,1433.0 631.5,1434.0 631.3,1445.3 630.9,1444.3" fill="#c0c0fa" stroke="#c0c0fa" stroke-width="0.6"/>
<polygon points="631.5,1434.0 640.3,1439.4 640.1,1450.7 631.3,1445.3" fill="#c0c0fa" stroke="#c0c0fa" stroke-width="0.6"/>
<polygon points="640.3,1439.4 640.9,1440.6 640.7,1451.8 640.1,1450.7" fill="#c0c0fa" stroke="#c0c0fa" stroke-width="0.6"/>
<polygon points="628.4,1446.2 618.4,1439.8 618.3,1451.1 628.2,1457.4" fill="#7e7eae" stroke="#7e7eae" stroke-width="0.6"/>
<polygon points="618.4,1439.8 608.5,1433.5 608.5,1444.8 618.3,1451.1" fill="#7e7eae" stroke="#7e7eae" stroke-width="0.6"/>
<polygon points="608.5,1433.5 598.7,1427.3 598.8,1438.7 608.5,1444.8" fill="#7e7eae" stroke="#7e7eae" stroke-width="0.6"/>
<polygon points="598.7,1427.3 599.4,1426.3 599.5,1437.6 598.8,1438.7" fill="#7e7eae" stroke="#7e7eae" stroke-width="0.6"/>
<polygon points="599.4,1426.3 609.0,1420.9 609.0,1432.2 599.5,1437.6" fill="#7e7eae" stroke="#7e7eae" stroke-width="0.6"/>
<polygon points="609.0,1420.9 608.6,1419.9 608.6,1431.2 609.0,1432.2" fill="#7e7eae" stroke="#7e7eae" stroke-width="0.6"/>
<polygon points="581.6,1428.1 581.2,1427.0 581.8,1426.5 592.2,1421.0 602.5,1415.7 612.7,1410.4 614.4,1410.7 622.7,1415.7 623.5,1416.0 625.1,1415.7 629.9,1413.2 630.4,1412.3 621.6,1406.9 621.2,1405.9 631.1,1400.7 632.9,1401.0 642.3,1406.6 651.9,1412.3 661.6,1418.0 661.1,1419.0 652.0,1424.2 652.5,1425.2 657.2,1428.0 658.0,1428.3 659.7,1428.1 668.3,1423.3 670.1,1423.0 680.3,1428.9 679.7,1430.0 669.8,1435.5 659.7,1441.2 649.4,1446.9 647.6,1446.5 638.0,1440.9 636.3,1441.1 631.4,1443.8 630.9,1444.3 631.3,1445.3 640.1,1450.7 640.7,1451.8 630.1,1457.8 628.2,1457.4 618.3,1451.1 608.5,1444.8 598.8,1438.7 599.5,1437.6 609.0,1432.2 608.6,1431.2 604.1,1428.4 603.3,1428.1 601.6,1428.4 592.5,1433.2 590.6,1433.5 581.6,1428.1" fill="#8787b6" stroke="#6464e6" stroke-width="1.0"/>
</g>
<polygon points="581.4,1416.7 580.9,1415.7 581.5,1415.1 592.0,1409.7 602.4,1404.3 612.6,1399.0 614.4,1399.3 622.7,1404.3 623.5,1404.6 625.2,1404.3 630.0,1401.8 630.4,1400.8 621.7,1395.5 621.2,1394.5 631.1,1389.2 632.9,1389.5 642.4,1395.1 652.1,1400.8 661.9,1406.6 661.4,1407.6 652.3,1412.8 652.7,1413.8 657.5,1416.6 658.3,1416.9 660.0,1416.7 668.6,1411.9 670.5,1411.6 680.7,1417.5 680.2,1418.6 670.1,1424.2 660.0,1429.8 649.7,1435.6 647.8,1435.2 638.2,1429.5 636.4,1429.8 631.5,1432.5 631.1,1433.0 631.5,1434.0 640.3,1439.4 640.9,1440.6 630.3,1446.5 628.4,1446.2 618.4,1439.8 608.5,1433.5 598.7,1427.3 599.4,1426.3 609.0,1420.9 608.6,1419.9 604.0,1417.1 603.2,1416.8 601.5,1417.0 592.4,1421.9 590.5,1422.2 581.4,1416.7" fill="none" stroke="#6464e6" stroke-width="1.0" stroke-linejoin="round"/>
<polygon points="527.5,1414.9 632.4,1361.5 734.6,1418.8 628.8,1481.0" fill="none" stroke="#6464e6" stroke-width="1.2" stroke-linejoin="round"/>
<line x1="628.8" y1="1481.0" x2="628.4" y2="1499.6" stroke="#6464e6" stroke-width="1.2"/>
<line x1="527.5" y1="1414.9" x2="528.5" y2="1433.8" stroke="#6464e6" stroke-width="1.2" opacity="0.5"/>
<line x1="734.6" y1="1418.8" x2="733.4" y2="1437.8" stroke="#6464e6" stroke-width="1.2" opacity="0.5"/>
<rect x="116.5" y="1356.8" width="631.0" height="508.5" fill="none" stroke="#000" stroke-width="3.1"/>
<line x1="116.5" y1="1865.3" x2="116.5" y2="1876.3" stroke="#000" stroke-width="3.1"/>
<line x1="174.4" y1="1865.3" x2="174.4" y2="1876.3" stroke="#000" stroke-width="3.1"/>
<line x1="231.7" y1="1865.3" x2="231.7" y2="1881.3" stroke="#000" stroke-width="3.1"/>
<line x1="289.0" y1="1865.3" x2="289.0" y2="1876.3" stroke="#000" stroke-width="3.1"/>
<line x1="346.3" y1="1865.3" x2="346.3" y2="1876.3" stroke="#000" stroke-width="3.1"/>
<line x1="403.6" y1="1865.3" x2="403.6" y2="1876.3" stroke="#000" stroke-width="3.1"/>
<line x1="461.0" y1="1865.3" x2="461.0" y2="1881.3" stroke="#000" stroke-width="3.1"/>
<line x1="518.3" y1="1865.3" x2="518.3" y2="1876.3" stroke="#000" stroke-width="3.1"/>
<line x1="575.6" y1="1865.3" x2="575.6" y2="1876.3" stroke="#000" stroke-width="3.1"/>
<line x1="632.9" y1="1865.3" x2="632.9" y2="1876.3" stroke="#000" stroke-width="3.1"/>
<line x1="690.2" y1="1865.3" x2="690.2" y2="1881.3" stroke="#000" stroke-width="3.1"/>
<line x1="747.5" y1="1865.3" x2="747.5" y2="1876.3" stroke="#000" stroke-width="3.1"/>
<text x="232.0" y="1913.6" font-size="29.8" text-anchor="middle">600</text>
<text x="461.3" y="1913.6" font-size="29.8" text-anchor="middle">620</text>
<text x="690.5" y="1913.6" font-size="29.8" text-anchor="middle">640</text>
<text x="102" y="1367.2" font-size="29.8" text-anchor="end">100</text>
<text x="102" y="1493.7" font-size="29.8" text-anchor="end">50</text>
<text x="102" y="1620.2" font-size="29.8" text-anchor="end">0</text>
<text x="102" y="1746.7" font-size="29.8" text-anchor="end">50</text>
<rect x="53.5" y="1737.24" width="15.5" height="2.5" fill="#000"/>
<text x="102" y="1873.2" font-size="29.8" text-anchor="end">100</text>
<rect x="37.3" y="1863.75" width="15.3" height="2.5" fill="#000"/>
<text x="432.2" y="1338.3" font-size="31.3" text-anchor="middle">500 nm width, 500 nm spacing</text>
<text x="112.5" y="1328.5" font-size="42.5" font-weight="bold">c</text>
<text transform="translate(21.8,1611.0) rotate(-90)" font-size="29.2" text-anchor="middle">Luminescence difference (arb. units)</text>
<text x="431.6" y="1956.6" font-size="29" text-anchor="middle">Wavelength (nm)</text>
</svg>
</body></html>
